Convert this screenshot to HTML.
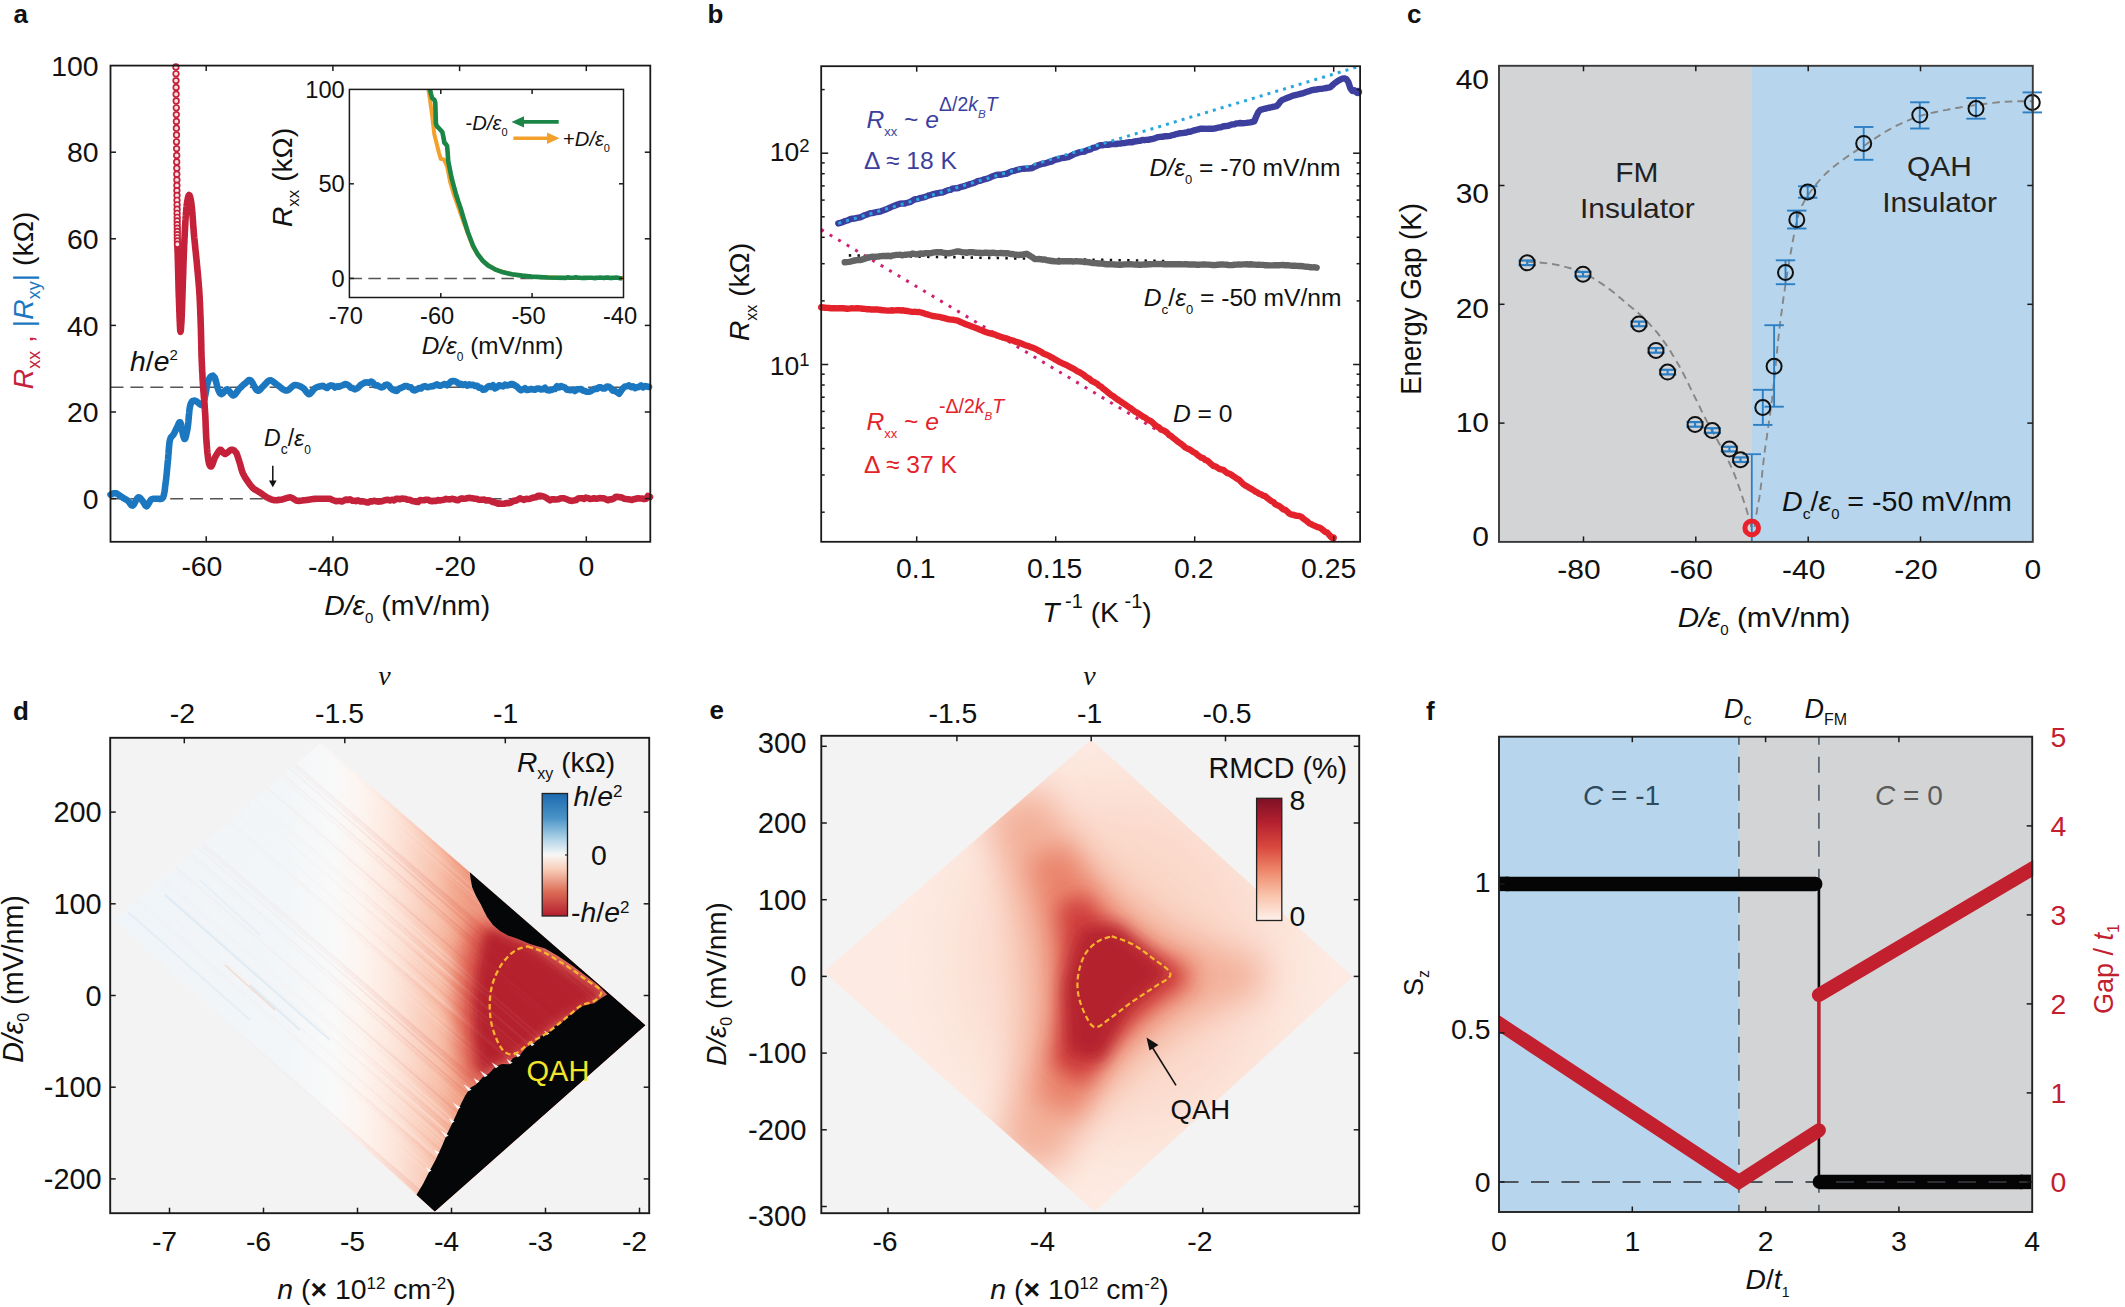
<!DOCTYPE html>
<html><head><meta charset="utf-8"><title>Figure</title>
<style>
html,body{margin:0;padding:0;background:#fff;}
body{width:2125px;height:1307px;overflow:hidden;}
svg{display:block;font-family:"Liberation Sans",sans-serif;}
</style></head><body>
<svg width="2125" height="1307" viewBox="0 0 2125 1307">
<defs>
<clipPath id="dclip"><polygon points="114,919.4 321,742.7 645.6,1025.2 434.8,1211.8"/></clipPath>
<linearGradient id="dgrad" gradientUnits="userSpaceOnUse" x1="110" y1="0" x2="650" y2="0"><stop offset="0.000" stop-color="#eff4f8"/><stop offset="0.333" stop-color="#f3f6f8"/><stop offset="0.417" stop-color="#f9f9f9"/><stop offset="0.467" stop-color="#fdf4ef"/><stop offset="0.509" stop-color="#fdeae1"/><stop offset="0.541" stop-color="#fcdfd3"/><stop offset="0.574" stop-color="#fad0bf"/><stop offset="0.607" stop-color="#f8c0aa"/><stop offset="0.641" stop-color="#f3a68c"/><stop offset="0.667" stop-color="#ef987f"/><stop offset="1.000" stop-color="#ec8f78"/></linearGradient>
<filter id="db1" x="-30%" y="-30%" width="160%" height="160%"><feGaussianBlur stdDeviation="9"/></filter>
<filter id="db2" x="-30%" y="-30%" width="160%" height="160%"><feGaussianBlur stdDeviation="6"/></filter>
<pattern id="dstreak" patternUnits="userSpaceOnUse" width="120" height="10" patternTransform="rotate(-49)"><rect x="0" y="0" width="1.4" height="10" fill="#ffffff" fill-opacity="0.16"/><rect x="2.1" y="0" width="1.8" height="10" fill="#ffffff" fill-opacity="0.05"/><rect x="5.6" y="0" width="0.9" height="10" fill="#ffffff" fill-opacity="0.05"/><rect x="7.2" y="0" width="1.6" height="10" fill="#c4392f" fill-opacity="0.03"/><rect x="9.8" y="0" width="1.9" height="10" fill="#c4392f" fill-opacity="0.08"/><rect x="13.2" y="0" width="2.6" height="10" fill="#ffffff" fill-opacity="0.19"/><rect x="17" y="0" width="1.1" height="10" fill="#ffffff" fill-opacity="0.10"/><rect x="20.6" y="0" width="1.1" height="10" fill="#c4392f" fill-opacity="0.08"/><rect x="23.2" y="0" width="1.8" height="10" fill="#ffffff" fill-opacity="0.05"/><rect x="26" y="0" width="2" height="10" fill="#ffffff" fill-opacity="0.10"/><rect x="30" y="0" width="1.6" height="10" fill="#ffffff" fill-opacity="0.18"/><rect x="33.8" y="0" width="1.2" height="10" fill="#c4392f" fill-opacity="0.07"/><rect x="37.8" y="0" width="2.1" height="10" fill="#ffffff" fill-opacity="0.22"/><rect x="40.7" y="0" width="1.6" height="10" fill="#c4392f" fill-opacity="0.04"/><rect x="43.9" y="0" width="0.9" height="10" fill="#c4392f" fill-opacity="0.10"/><rect x="46.7" y="0" width="2.4" height="10" fill="#ffffff" fill-opacity="0.17"/><rect x="51.1" y="0" width="1.8" height="10" fill="#ffffff" fill-opacity="0.19"/><rect x="55.8" y="0" width="1.7" height="10" fill="#c4392f" fill-opacity="0.03"/><rect x="59.7" y="0" width="2" height="10" fill="#c4392f" fill-opacity="0.10"/><rect x="62.9" y="0" width="1.5" height="10" fill="#c4392f" fill-opacity="0.02"/><rect x="66" y="0" width="1.1" height="10" fill="#ffffff" fill-opacity="0.05"/><rect x="69.6" y="0" width="1" height="10" fill="#ffffff" fill-opacity="0.11"/><rect x="73.3" y="0" width="0.9" height="10" fill="#ffffff" fill-opacity="0.14"/><rect x="76.9" y="0" width="2.3" height="10" fill="#c4392f" fill-opacity="0.05"/><rect x="80.7" y="0" width="1.4" height="10" fill="#c4392f" fill-opacity="0.12"/><rect x="83.1" y="0" width="1.1" height="10" fill="#ffffff" fill-opacity="0.08"/><rect x="85.9" y="0" width="1.9" height="10" fill="#ffffff" fill-opacity="0.04"/><rect x="89.3" y="0" width="1.5" height="10" fill="#c4392f" fill-opacity="0.12"/><rect x="93" y="0" width="1.7" height="10" fill="#c4392f" fill-opacity="0.09"/><rect x="95.4" y="0" width="2.4" height="10" fill="#c4392f" fill-opacity="0.11"/><rect x="100.3" y="0" width="1.5" height="10" fill="#ffffff" fill-opacity="0.06"/><rect x="103.9" y="0" width="0.9" height="10" fill="#ffffff" fill-opacity="0.08"/><rect x="105.7" y="0" width="1.4" height="10" fill="#ffffff" fill-opacity="0.04"/><rect x="108" y="0" width="1" height="10" fill="#ffffff" fill-opacity="0.04"/><rect x="111.6" y="0" width="1.9" height="10" fill="#ffffff" fill-opacity="0.09"/><rect x="114.9" y="0" width="1.5" height="10" fill="#ffffff" fill-opacity="0.19"/><rect x="119.3" y="0" width="1.6" height="10" fill="#ffffff" fill-opacity="0.06"/></pattern>
<linearGradient id="dstreakfade" gradientUnits="userSpaceOnUse" x1="110" y1="0" x2="650" y2="0">
<stop offset="0" stop-color="#fff" stop-opacity="0.15"/><stop offset="0.4" stop-color="#fff" stop-opacity="0.3"/><stop offset="0.6" stop-color="#fff" stop-opacity="1"/><stop offset="1" stop-color="#fff" stop-opacity="1"/></linearGradient>
<mask id="dmask" maskUnits="userSpaceOnUse" x="100" y="730" width="560" height="490"><rect x="100" y="730" width="560" height="490" fill="url(#dstreakfade)"/></mask>
<linearGradient id="dcb" x1="0" y1="0" x2="0" y2="1"><stop offset="0" stop-color="#1c69b0"/><stop offset="0.2" stop-color="#4a93c7"/>
<stop offset="0.38" stop-color="#b4d6e9"/><stop offset="0.5" stop-color="#f8f7f6"/><stop offset="0.62" stop-color="#f8cdb8"/><stop offset="0.8" stop-color="#dc6e58"/>
<stop offset="1" stop-color="#b41d2d"/></linearGradient>
<clipPath id="eclip"><polygon points="823.7,971.8 1091.2,739.5 1352.7,976.8 1094.7,1211.7"/></clipPath>
<filter id="eb0" x="-50%" y="-50%" width="200%" height="200%"><feGaussianBlur stdDeviation="45"/></filter>
<filter id="eb1" x="-30%" y="-30%" width="160%" height="160%"><feGaussianBlur stdDeviation="17"/></filter>
<filter id="eb2" x="-30%" y="-30%" width="160%" height="160%"><feGaussianBlur stdDeviation="13"/></filter>
<filter id="eb3" x="-30%" y="-30%" width="160%" height="160%"><feGaussianBlur stdDeviation="10"/></filter>
<filter id="eb4" x="-30%" y="-30%" width="160%" height="160%"><feGaussianBlur stdDeviation="8"/></filter>
<linearGradient id="ecb" x1="0" y1="0" x2="0" y2="1"><stop offset="0" stop-color="#7d1025"/><stop offset="0.2" stop-color="#b5212f"/>
<stop offset="0.4" stop-color="#d9493f"/><stop offset="0.6" stop-color="#ef8a6c"/><stop offset="0.8" stop-color="#fac4ad"/>
<stop offset="1" stop-color="#fef1ea"/></linearGradient>
<clipPath id="fclip"><rect x="1499" y="736.7" width="534.2" height="475.3"/></clipPath>
</defs>
<rect width="2125" height="1307" fill="#ffffff"/>
<g id="panel-a">
<text x="13.5" y="23" font-size="26" text-anchor="start" fill="#111" font-weight="bold">a</text>
<line x1="110.5" y1="387.2" x2="650.3" y2="387.2" stroke="#555" stroke-width="1.5" stroke-dasharray="13 6.9"/>
<line x1="110.5" y1="498.8" x2="650.3" y2="498.8" stroke="#555" stroke-width="1.5" stroke-dasharray="13 6.9"/>
<path d="M110.5 494.6 L111.7 494 L113.5 493.3 L115.5 493.2 L116.8 493.7 L118.2 494.5 L119.6 495.5 L121.1 496.5 L122.4 497.4 L123.9 498.3 L125.3 499.1 L126.6 499.9 L127.9 500.8 L129.1 502.2 L130.3 503.9 L131.5 505.3 L132.7 505.6 L133.6 504.8 L134.5 503.4 L135.4 501.5 L136.4 499.7 L137.3 498.2 L138.2 497.4 L139.5 497.5 L140.7 498.6 L141.9 500.1 L143 501.5 L144.2 503.5 L145.3 505.5 L146.5 506.3 L147.4 505.6 L148.3 504.1 L149.3 502.3 L150.3 500.6 L151.3 499.4 L153.1 498.8 L154.9 498.8 L156.8 498.8 L158.4 498.8 L160.1 499.1 L161.7 498.8 L163 497.4 L163.4 496.4 L163.8 495.2 L164.1 493.8 L164.4 492.3 L164.7 490.6 L164.9 488.9 L165.1 487.1 L165.3 485.2 L165.6 483.3 L165.8 481.5 L166 480.1 L166.2 478.6 L166.3 477.1 L166.5 475.5 L166.7 473.9 L166.8 472.3 L167 470.7 L167.1 469 L167.3 467.4 L167.4 465.8 L167.6 464.1 L167.7 462.5 L167.9 460.9 L168.1 459.3 L168.2 457.6 L168.3 455.8 L168.5 454 L168.6 452.3 L168.7 450.5 L168.9 448.7 L169 447.1 L169.2 445.5 L169.3 443.9 L169.5 442.5 L169.7 441.3 L169.9 440.2 L170.7 437.8 L171.5 436.7 L172.4 435.9 L173.4 434.7 L174.1 433.4 L174.8 432 L175.5 430.5 L176.2 429 L176.9 427.6 L177.5 426.4 L178.5 424.1 L179.4 422.3 L180.3 422.3 L180.6 423.1 L181 424.4 L181.3 426.1 L181.7 428 L182 429.9 L182.4 431.8 L182.7 433.4 L183 434.7 L183.7 437.3 L184.4 439 L185.1 438.8 L185.4 438.1 L185.7 437 L186.1 435.7 L186.4 434.1 L186.8 432.3 L187.2 430.4 L187.5 428.4 L187.8 426.4 L188 425 L188.2 423.4 L188.4 421.8 L188.5 420 L188.7 418.2 L188.8 416.4 L189 414.6 L189.2 412.8 L189.3 411.2 L189.5 409.6 L189.7 408.3 L189.9 407.1 L190.5 404.5 L191.2 402.8 L191.9 401.7 L192.7 400.9 L194.6 400.6 L196.8 401.6 L198.1 402.6 L199.6 404 L201.1 405 L202.3 405.1 L202.9 404.4 L203.4 403.2 L203.9 401.7 L204.3 399.9 L204.7 398 L205.1 396.1 L205.4 394.7 L205.7 393.2 L206 391.6 L206.3 389.9 L206.6 388.2 L206.8 386.5 L207.1 384.9 L207.5 383.5 L207.8 382.3 L208.6 380.1 L209.5 378.3 L210.4 377 L211.3 376.2 L213 375.7 L214.7 377.5 L215.1 378.5 L215.5 379.9 L216 381.4 L216.4 383.1 L216.8 384.9 L217.2 386.5 L217.7 388 L218.1 389.2 L218.9 391.1 L219.7 392.7 L220.6 393.7 L221.6 394.1 L222.8 393.3 L224.2 391.6 L225.6 389.9 L227.1 389.2 L228.3 389.9 L229.5 391.5 L230.8 393.3 L232 394.8 L233.3 395.4 L234.3 395 L235.4 394 L236.4 392.7 L237.4 391.2 L238.5 389.7 L239.5 388.5 L240.8 387.3 L242 386.1 L243.3 384.9 L244.5 383.9 L245.7 383 L247.3 381.4 L248.8 380.1 L250.5 380.3 L251.3 381.1 L252.1 382.3 L253 383.8 L253.9 385.5 L254.8 387.2 L255.7 388.7 L256.6 389.9 L257.4 390.6 L258.8 390.6 L260.1 389.6 L261.5 388 L262.9 386.5 L264 385.5 L265.1 384.2 L266.3 382.9 L267.4 381.7 L268.6 380.8 L269.8 380.3 L271.1 380.4 L272.4 381.1 L273.7 382.1 L275.1 383.3 L276.7 384.4 L277.9 385.3 L279.3 386.4 L280.7 387.5 L282.1 388.7 L283.6 389.6 L285 390.3 L286.3 390.6 L287.8 390.3 L289.2 389.3 L290.5 388.1 L291.9 386.8 L293.2 385.7 L294.6 385.1 L296.3 385.1 L298 385.5 L299.7 386.1 L301.4 387 L302.9 387.9 L304.3 389.1 L305.5 390.7 L306.7 392.3 L307.9 393.6 L309.1 394.1 L310.3 393.6 L311.5 392.3 L312.7 390.7 L314 389.1 L315.3 387.9 L316.9 387.2 L318.6 386.7 L320.4 386.3 L321.9 386 L323 385.8 L325 387 L327 388 L329 386.1 L331 385.4 L333 385.7 L335 387.5 L337 386.3 L339 386.8 L341 385.8 L343 385.2 L345 384 L347 384.5 L349 385.8 L351 387.8 L353 388.3 L355 389.4 L357 388.4 L359 386.7 L361 384.6 L363 383.6 L365 382.5 L367 382.4 L369 382.9 L371 381.5 L373 382.6 L375 385.4 L377 385.2 L379 386.4 L381 387.4 L383 387 L385 385.2 L387 384.5 L389 385.8 L391 388.4 L393 389.9 L395 390.5 L397 390.9 L399 388.6 L401 388 L403 387.1 L405 386 L407 386 L409 387.3 L411 387.4 L413 390 L415 390.4 L417 389.4 L419 388.1 L421 388.5 L423 386.6 L425 386.1 L427 387.2 L429 386.9 L431 386.4 L433 386.2 L435 385.2 L437 384.4 L439 385.6 L441 385.6 L443 384.6 L445 384 L447 385.4 L449 383.6 L451 381.5 L453 381.1 L455 381.3 L457 382.2 L459 383.9 L461 383.7 L463 385 L465 384.2 L467 385.7 L469 384.4 L471 385.1 L473 384.7 L475 386 L477 385.7 L479 387.7 L481 387.9 L483 389.7 L485 389.5 L487 387.4 L489 386 L491 387 L493 385.2 L495 388.4 L497 387.3 L499 385.3 L501 385.8 L503 386.4 L505 384.7 L507 385.4 L509 385 L511 384.1 L513 384.1 L515 385.5 L517 386.6 L519 388.9 L521 390.3 L523 389.5 L525 388.2 L527 390 L529 389.8 L531 388.9 L533 389.5 L535 389.8 L537 388.5 L539 388.5 L541 389.5 L543 389.2 L545 387.8 L547 390.1 L549 390.4 L551 390.1 L553 389.3 L555 389 L557 386.2 L559 387.5 L561 386 L563 386.9 L565 387.6 L567 389.8 L569 389.9 L571 390.2 L573 389.6 L575 391 L577 389.4 L579 389.3 L581 389 L583 390.5 L585 391.1 L587 391.8 L589 391.8 L591 391.2 L593 389.7 L595 388.7 L597 389 L599 387.3 L601 387.4 L603 388.5 L605 388.4 L607 386.5 L609 386.8 L611 388.4 L613 390.8 L615 390.9 L617 392.2 L619 393.7 L621 391 L623 388.2 L625 386.5 L627 386.2 L629 385.4 L631 387.1 L633 386.3 L635 388.2 L637 387.3 L639 386.9 L641 385.4 L643 387.3 L645 386.1 L647 386.5 L649 387" fill="none" stroke="#1b78c0" stroke-width="6.6" stroke-linejoin="round" stroke-linecap="round"/>
<path d="M177.3 243 L177.3 243.9 L177.4 244.9 L177.4 246.1 L177.4 247.4 L177.5 248.9 L177.5 250.5 L177.6 252.1 L177.7 253.9 L177.7 255.7 L177.8 257.5 L177.8 259.4 L177.9 261.2 L177.9 263.1 L178 265 L178 266.3 L178.1 267.6 L178.1 269 L178.1 270.4 L178.2 271.8 L178.2 273.2 L178.2 274.7 L178.3 276.1 L178.3 277.6 L178.3 279.1 L178.4 280.6 L178.4 282.2 L178.5 283.7 L178.5 285.3 L178.5 286.9 L178.6 288.5 L178.6 290.1 L178.7 291.7 L178.7 293.4 L178.8 295 L178.8 296.4 L178.9 297.9 L179 299.5 L179 301.2 L179.1 303 L179.1 304.7 L179.2 306.5 L179.3 308.4 L179.3 310.2 L179.4 312.1 L179.5 313.9 L179.5 315.7 L179.6 317.5 L179.7 319.2 L179.7 320.8 L179.8 322.4 L179.9 323.9 L179.9 325.3 L180 326.6 L180.1 327.8 L180.1 328.8 L180.2 329.7 L180.2 330.4 L180.3 331 L180.5 331.8 L180.6 331.5 L180.8 330.4 L181 328.5 L181.1 326.1 L181.3 323.5 L181.5 320.7 L181.6 318 L181.7 316.8 L181.7 315.6 L181.8 314.3 L181.8 313 L181.9 311.6 L181.9 310.2 L182 308.8 L182 307.2 L182.1 305.7 L182.1 304.1 L182.2 302.5 L182.2 300.8 L182.3 299.1 L182.4 297.3 L182.4 295.5 L182.5 293.7 L182.5 291.9 L182.6 290 L182.6 288.7 L182.7 287.3 L182.7 285.9 L182.8 284.4 L182.8 282.9 L182.9 281.4 L182.9 279.8 L183 278.2 L183.1 276.7 L183.1 275 L183.2 273.4 L183.2 271.8 L183.3 270.1 L183.3 268.5 L183.4 266.8 L183.4 265.2 L183.5 263.6 L183.5 262 L183.6 260.4 L183.7 258.8 L183.7 257.2 L183.8 255.7 L183.8 254.2 L183.9 252.8 L183.9 251.4 L184 250 L184.1 248.3 L184.1 246.5 L184.2 244.8 L184.3 243.2 L184.4 241.5 L184.4 239.9 L184.5 238.2 L184.6 236.7 L184.7 235.1 L184.7 233.6 L184.8 232.1 L184.9 230.6 L185 229.1 L185 227.7 L185.1 226.4 L185.2 225 L185.3 223.7 L185.3 222.4 L185.4 221.2 L185.5 220 L185.6 217.9 L185.8 216 L185.9 214.2 L186 212.5 L186.2 210.9 L186.3 209.4 L186.4 208 L186.6 206.6 L186.7 205.4 L186.8 204.2 L187 203 L187.4 200.6 L187.8 198.5 L188.2 196.8 L188.6 195.6 L189 195 L189.5 195.3 L190 196.6 L190.5 198.6 L191 201 L191.2 202.2 L191.4 203.5 L191.5 204.9 L191.7 206.3 L191.9 207.9 L192 209.6 L192.2 211.3 L192.3 213.1 L192.5 215 L192.6 216.3 L192.7 217.6 L192.8 219 L192.9 220.4 L193 221.8 L193.1 223.3 L193.2 224.8 L193.3 226.3 L193.4 227.9 L193.6 229.6 L193.7 231.3 L193.8 233.1 L194 235 L194.1 236.3 L194.2 237.6 L194.4 239 L194.5 240.4 L194.7 241.8 L194.8 243.3 L195 244.8 L195.1 246.3 L195.3 247.8 L195.4 249.4 L195.6 250.9 L195.8 252.5 L195.9 254.1 L196.1 255.7 L196.2 257.3 L196.4 258.8 L196.6 260.4 L196.7 262 L196.9 263.5 L197 265 L197.1 266.5 L197.3 268 L197.4 269.5 L197.5 270.9 L197.7 272.4 L197.8 273.8 L198 275.3 L198.1 276.8 L198.2 278.2 L198.3 279.7 L198.5 281.2 L198.6 282.6 L198.7 284.1 L198.8 285.6 L199 287.1 L199.1 288.7 L199.2 290.2 L199.3 291.8 L199.4 293.4 L199.5 295 L199.6 296.4 L199.7 297.9 L199.7 299.4 L199.8 300.9 L199.9 302.4 L200 304 L200 305.5 L200.1 307.1 L200.2 308.7 L200.2 310.3 L200.3 311.9 L200.3 313.4 L200.4 315 L200.5 316.6 L200.5 318.2 L200.6 319.7 L200.6 321.3 L200.7 322.8 L200.7 324.3 L200.8 325.8 L200.8 327.2 L200.9 328.6 L200.9 330 L201 331.7 L201 333.4 L201 335 L201.1 336.6 L201.1 338.2 L201.2 339.8 L201.2 341.3 L201.2 342.8 L201.3 344.3 L201.3 345.7 L201.3 347.2 L201.3 348.7 L201.4 350.1 L201.4 351.6 L201.5 353.1 L201.5 354.6 L201.5 356.1 L201.6 357.6 L201.7 359.1 L201.7 360.7 L201.8 362.2 L201.9 363.7 L201.9 365.2 L202 366.8 L202.1 368.3 L202.1 369.8 L202.2 371.4 L202.3 372.9 L202.4 374.4 L202.5 375.9 L202.5 377.5 L202.6 379 L202.7 380.5 L202.8 382 L202.9 383.6 L203 385.1 L203.1 386.6 L203.2 388.2 L203.3 389.7 L203.4 391.2 L203.6 392.8 L203.7 394.3 L203.8 395.8 L203.9 397.4 L204.1 398.9 L204.2 400.4 L204.3 402 L204.4 403.5 L204.6 405 L204.7 406.6 L204.8 408.1 L204.9 409.6 L205 411.2 L205.1 412.7 L205.2 414.2 L205.3 415.8 L205.4 417.4 L205.4 418.9 L205.5 420.5 L205.6 422.1 L205.6 423.7 L205.7 425.3 L205.7 426.9 L205.8 428.4 L205.9 430 L205.9 431.5 L206 433.1 L206.1 434.5 L206.1 436 L206.2 437.4 L206.3 438.8 L206.4 440.2 L206.5 442.1 L206.7 443.9 L206.8 445.8 L207 447.6 L207.1 449.3 L207.3 451.1 L207.4 452.8 L207.6 454.4 L207.8 455.9 L208 457.3 L208.1 458.6 L208.3 459.8 L208.5 460.9 L209.1 463.7 L209.8 465.5 L210.5 466.4 L211.3 466.4 L211.9 465.6 L212.6 464 L213.3 462 L214 459.9 L214.7 458.1 L215.5 456.5 L216.4 455 L217.3 453.5 L218.1 452.2 L218.8 451.2 L219.9 449.9 L220.9 449.9 L222.1 451.1 L223.5 453 L225 454 L226.2 453.6 L227.5 452.5 L228.8 451.3 L229.9 450.5 L231.3 449.8 L232.6 449.9 L234.3 450.6 L236.1 452.6 L236.7 453.8 L237.2 455.2 L237.8 456.9 L238.4 458.6 L238.9 460.4 L239.5 462.2 L240 463.7 L240.4 465.3 L240.9 467 L241.3 468.7 L241.8 470.3 L242.3 471.9 L242.9 473.3 L243.6 474.8 L244.4 476.3 L245.2 477.7 L246.1 479 L246.9 480.2 L247.8 481.5 L248.8 483 L249.9 484.5 L251 485.9 L252.1 487.2 L253.3 488.4 L254.6 489.4 L256 490.2 L257.4 491 L258.8 491.8 L260.2 492.6 L261.6 493.6 L262.9 494.6 L264.3 495.6 L265.6 496.6 L267 497.4 L268.7 498.3 L270.4 499.1 L272.1 499.7 L273.9 500.1 L275.5 500.2 L277.1 500.1 L278.8 499.9 L280.5 499.7 L282.2 499.4 L283.9 499 L285.6 498.4 L287.3 497.9 L288.9 497.5 L290.5 497.4 L291.9 497.8 L293.3 498.6 L294.6 499.5 L296 500.3 L297.4 500.8 L298.9 500.9 L300.5 500.8 L302.1 500.6 L303.8 500.3 L305.6 500.1 L307 499.9 L308.5 499.7 L310 499.5 L311.6 499.3 L313.2 499.1 L314.9 498.9 L316.6 498.8 L318.3 498.7 L320.1 498.7 L322 498.7 L324 498.7 L325.9 498.7 L327.5 498.8 L328.9 498.8 L330 498.8 L332 499.7 L334 500.5 L336 501.2 L338 501 L340 501 L342 501.4 L344 500.5 L346 499.5 L348 500 L350 499.2 L352 500.6 L354 500.7 L356 501.1 L358 500.4 L360 501.4 L362 501.2 L364 501.5 L366 502.2 L368 502.5 L370 501.5 L372 501.5 L374 500.8 L376 501.2 L378 501.6 L380 501.5 L382 501.2 L384 500.5 L386 500.1 L388 499.7 L390 500.5 L392 499.7 L394 500.4 L396 498.9 L398 498.7 L400 499.3 L402 498.5 L404 498.7 L406 499.1 L408 499.8 L410 499.8 L412 500.9 L414 501.2 L416 501.8 L418 502 L420 500.1 L422 500.2 L424 500.2 L426 499.7 L428 499.7 L430 500.7 L432 501.2 L434 500.7 L436 500.9 L438 500 L440 500.4 L442 500.1 L444 499.7 L446 498.9 L448 499.2 L450 499.4 L452 498.8 L454 499.2 L456 499.9 L458 500.3 L460 499 L462 498.4 L464 498.7 L466 498.5 L468 498 L470 497.9 L472 498.2 L474 498.6 L476 498.7 L478 499.4 L480 499.8 L482 499.8 L484 499.5 L486 500.4 L488 500.3 L490 500.5 L492 501.7 L494 502.2 L496 502.9 L498 503.6 L500 503.4 L502 503.8 L504 503.8 L506 503.1 L508 503.1 L510 503 L512 501.8 L514 500.6 L516 500.7 L518 499.5 L520 498.3 L522 499.2 L524 499.9 L526 498.8 L528 499.1 L530 498.8 L532 498 L534 497.5 L536 497.2 L538 495.8 L540 495.9 L542 496.1 L544 496.6 L546 497.6 L548 499 L550 500.3 L552 499.3 L554 499.4 L556 499.5 L558 499.3 L560 498.6 L562 498.2 L564 498.2 L566 499 L568 499.8 L570 500.6 L572 500.9 L574 500.4 L576 500.1 L578 498.5 L580 498.3 L582 498.2 L584 498.9 L586 497.6 L588 498.1 L590 499 L592 498.7 L594 498.2 L596 498.8 L598 498.4 L600 498.1 L602 498.2 L604 498.4 L606 499.4 L608 500.2 L610 499.2 L612 499.4 L614 498.3 L616 496.7 L618 496.9 L620 497.2 L622 497.6 L624 498.7 L626 499 L628 499.2 L630 499.5 L632 499.9 L634 499.2 L636 498.7 L638 498.2 L640 498.5 L642 498.5 L644 499.1 L646 498.7 L648 496 L650 497" fill="none" stroke="#c4213a" stroke-width="6.6" stroke-linejoin="round" stroke-linecap="round"/>
<g fill="#f7dfe2" stroke="#c4213a" stroke-width="1.7"><circle cx="175.9" cy="67" r="2.8"/><circle cx="176" cy="73.8" r="2.8"/><circle cx="176" cy="80.6" r="2.8"/><circle cx="176.1" cy="87.4" r="2.8"/><circle cx="176.1" cy="94.2" r="2.8"/><circle cx="176.2" cy="101" r="2.8"/><circle cx="176.3" cy="107.8" r="2.8"/><circle cx="176.3" cy="114.6" r="2.8"/><circle cx="176.4" cy="121.4" r="2.8"/><circle cx="176.4" cy="128.2" r="2.8"/><circle cx="176.5" cy="135" r="2.8"/><circle cx="176.5" cy="141.8" r="2.8"/><circle cx="176.6" cy="148.6" r="2.8"/><circle cx="176.7" cy="155.4" r="2.8"/><circle cx="176.7" cy="162" r="2.8"/><circle cx="176.8" cy="168.2" r="2.8"/><circle cx="176.8" cy="174.2" r="2.8"/><circle cx="176.9" cy="179.9" r="2.8"/><circle cx="176.9" cy="185.4" r="2.8"/><circle cx="176.9" cy="190.6" r="2.8"/><circle cx="177" cy="195.5" r="2.8"/><circle cx="177" cy="200.3" r="2.8"/><circle cx="177.1" cy="204.8" r="2.8"/><circle cx="177.1" cy="209.2" r="2.8"/><circle cx="177.1" cy="213.3" r="2.8"/><circle cx="177.2" cy="217.3" r="2.8"/><circle cx="177.2" cy="221" r="2.8"/><circle cx="177.2" cy="224.6" r="2.8"/><circle cx="177.3" cy="228.1" r="2.8"/><circle cx="177.3" cy="231.4" r="2.8"/><circle cx="177.3" cy="234.6" r="2.8"/><circle cx="177.3" cy="237.8" r="2.8"/><circle cx="177.4" cy="241" r="2.8"/><circle cx="177.4" cy="244.2" r="2.8"/></g>
<rect x="110.5" y="65.6" width="539.8" height="476.2" fill="none" stroke="#1a1a1a" stroke-width="1.8"/>
<line x1="206.2" y1="541.8" x2="206.2" y2="536.3" stroke="#1a1a1a" stroke-width="1.5" />
<line x1="332.9" y1="541.8" x2="332.9" y2="536.3" stroke="#1a1a1a" stroke-width="1.5" />
<line x1="459.6" y1="541.8" x2="459.6" y2="536.3" stroke="#1a1a1a" stroke-width="1.5" />
<line x1="586.3" y1="541.8" x2="586.3" y2="536.3" stroke="#1a1a1a" stroke-width="1.5" />
<line x1="206.2" y1="65.6" x2="206.2" y2="71.1" stroke="#1a1a1a" stroke-width="1.5" />
<line x1="332.9" y1="65.6" x2="332.9" y2="71.1" stroke="#1a1a1a" stroke-width="1.5" />
<line x1="459.6" y1="65.6" x2="459.6" y2="71.1" stroke="#1a1a1a" stroke-width="1.5" />
<line x1="586.3" y1="65.6" x2="586.3" y2="71.1" stroke="#1a1a1a" stroke-width="1.5" />
<line x1="110.5" y1="498.6" x2="116" y2="498.6" stroke="#1a1a1a" stroke-width="1.5" />
<line x1="110.5" y1="412" x2="116" y2="412" stroke="#1a1a1a" stroke-width="1.5" />
<line x1="110.5" y1="325.4" x2="116" y2="325.4" stroke="#1a1a1a" stroke-width="1.5" />
<line x1="110.5" y1="238.8" x2="116" y2="238.8" stroke="#1a1a1a" stroke-width="1.5" />
<line x1="110.5" y1="152.2" x2="116" y2="152.2" stroke="#1a1a1a" stroke-width="1.5" />
<line x1="650.3" y1="498.6" x2="644.8" y2="498.6" stroke="#1a1a1a" stroke-width="1.5" />
<line x1="650.3" y1="412" x2="644.8" y2="412" stroke="#1a1a1a" stroke-width="1.5" />
<line x1="650.3" y1="325.4" x2="644.8" y2="325.4" stroke="#1a1a1a" stroke-width="1.5" />
<line x1="650.3" y1="238.8" x2="644.8" y2="238.8" stroke="#1a1a1a" stroke-width="1.5" />
<line x1="650.3" y1="152.2" x2="644.8" y2="152.2" stroke="#1a1a1a" stroke-width="1.5" />
<text x="201.9" y="575.9" font-size="28.4" text-anchor="middle" fill="#111" >-60</text>
<text x="328.6" y="575.9" font-size="28.4" text-anchor="middle" fill="#111" >-40</text>
<text x="455.3" y="575.9" font-size="28.4" text-anchor="middle" fill="#111" >-20</text>
<text x="586.3" y="575.9" font-size="28.4" text-anchor="middle" fill="#111" >0</text>
<text x="98.5" y="508.8" font-size="28.4" text-anchor="end" fill="#111" >0</text>
<text x="98.5" y="422.2" font-size="28.4" text-anchor="end" fill="#111" >20</text>
<text x="98.5" y="335.6" font-size="28.4" text-anchor="end" fill="#111" >40</text>
<text x="98.5" y="249" font-size="28.4" text-anchor="end" fill="#111" >60</text>
<text x="98.5" y="162.4" font-size="28.4" text-anchor="end" fill="#111" >80</text>
<text x="98.5" y="75.8" font-size="28.4" text-anchor="end" fill="#111" >100</text>
<text x="407.2" y="614.7" font-size="28.4" text-anchor="middle" fill="#111" ><tspan font-style="italic">D/&#949;</tspan><tspan dy="8" font-size="15">0</tspan><tspan dy="-8">&#8203;</tspan> (mV/nm)</text>
<text transform="translate(32.6 300.5) rotate(-90)" font-size="28.4" text-anchor="middle"><tspan fill="#c4213a" font-style="italic">R</tspan><tspan fill="#c4213a" dy="7" font-size="18">xx</tspan><tspan dy="-7" fill="#c4213a"> ,  </tspan><tspan fill="#1b78c0">|<tspan font-style="italic">R</tspan></tspan><tspan fill="#1b78c0" dy="7" font-size="18">xy</tspan><tspan dy="-7" fill="#1b78c0">|</tspan><tspan fill="#111"> (k&#937;)</tspan></text>
<text x="130" y="370.6" font-size="28.4" text-anchor="start" fill="#111" ><tspan font-style="italic">h</tspan>/<tspan font-style="italic">e</tspan><tspan dy="-11" font-size="15">2</tspan><tspan dy="11">&#8203;</tspan></text>
<text x="264" y="446.4" font-size="23" text-anchor="start" fill="#111" ><tspan font-style="italic">D</tspan><tspan dy="8" font-size="14">c</tspan><tspan dy="-8">&#8203;</tspan>/<tspan font-style="italic">&#949;</tspan><tspan dy="8" font-size="12">0</tspan><tspan dy="-8">&#8203;</tspan></text>
<line x1="272.8" y1="465.7" x2="272.8" y2="482" stroke="#111" stroke-width="1.5" />
<polygon points="269,480.6 276.6,480.6 272.8,487.2" fill="#111"/>
<rect x="349.4" y="89.4" width="274.1" height="208.1" fill="#fff"/>
<line x1="349.4" y1="278.4" x2="623.5" y2="278.4" stroke="#555" stroke-width="1.5" stroke-dasharray="12.5 6.5"/>
<path d="M428.4 89.4 L430 100 L432.1 115 L433.2 125 L434.3 134.3 L436 141 L437.5 147.1 L439 153 L440.7 158.9 L443.9 159.5 L445.5 163 L447.1 166.4 L450.3 182.5 L453.4 193 L463.2 221 L473 247 L482.8 261.2 L495 269.5 L512 274.4 L531.7 276.8 L566 278 L623.5 278" fill="none" stroke="#f4a02c" stroke-width="4" stroke-linejoin="round"/>
<path d="M430 89.4 L431 94 L432.1 97.9 L434.5 100 L435.3 103 L435.6 113 L435.9 123.6 L437 126.5 L438.5 127.8 L440.5 130 L442.3 132.1 L443.4 137 L444.4 142.8 L446 144.3 L447.1 146 L447.7 153 L448.2 161 L449.8 169 L451.4 177.1 L453.5 185 L455.7 193.2 L458.3 201.5 L461 209.3 L463.2 217 L468 232.5 L473 245.5 L477.5 254 L482.8 260.7 L488 265.5 L495 269.3 L503 272.3 L512 274.2 L522 275.6 L531.7 276.6 L548 277.5 L566 277.9 L568 277.3 L570 277.7 L572 277.7 L574 277.6 L576 277.3 L578 277.7 L580 277.7 L582 278 L584 277.9 L586 277.9 L588 277.8 L590 277.7 L592 277.8 L594 278.1 L596 277.9 L598 277.7 L600 277.6 L602 277.8 L604 277.9 L606 277.6 L608 277.5 L610 278 L612 277.9 L614 277.8 L616 277.6 L618 277.8 L620 278.2 L622 278.4" fill="none" stroke="#1a8547" stroke-width="4.6" stroke-linejoin="round"/>
<rect x="349.4" y="89.4" width="274.1" height="208.1" fill="none" stroke="#1a1a1a" stroke-width="1.5"/>
<line x1="440.8" y1="297.5" x2="440.8" y2="293" stroke="#1a1a1a" stroke-width="1.5" />
<line x1="532.1" y1="297.5" x2="532.1" y2="293" stroke="#1a1a1a" stroke-width="1.5" />
<line x1="440.8" y1="89.4" x2="440.8" y2="93.9" stroke="#1a1a1a" stroke-width="1.5" />
<line x1="532.1" y1="89.4" x2="532.1" y2="93.9" stroke="#1a1a1a" stroke-width="1.5" />
<line x1="349.4" y1="278.4" x2="353.9" y2="278.4" stroke="#1a1a1a" stroke-width="1.5" />
<line x1="349.4" y1="183.8" x2="353.9" y2="183.8" stroke="#1a1a1a" stroke-width="1.5" />
<line x1="623.5" y1="278.4" x2="619" y2="278.4" stroke="#1a1a1a" stroke-width="1.5" />
<line x1="623.5" y1="183.8" x2="619" y2="183.8" stroke="#1a1a1a" stroke-width="1.5" />
<text x="345.8" y="323.8" font-size="23.7" text-anchor="middle" fill="#111" >-70</text>
<text x="437.2" y="323.8" font-size="23.7" text-anchor="middle" fill="#111" >-60</text>
<text x="528.6" y="323.8" font-size="23.7" text-anchor="middle" fill="#111" >-50</text>
<text x="620" y="323.8" font-size="23.7" text-anchor="middle" fill="#111" >-40</text>
<text x="344.8" y="286.9" font-size="23.7" text-anchor="end" fill="#111" >0</text>
<text x="344.8" y="192.3" font-size="23.7" text-anchor="end" fill="#111" >50</text>
<text x="344.8" y="97.7" font-size="23.7" text-anchor="end" fill="#111" >100</text>
<text x="492.5" y="353.5" font-size="24.3" text-anchor="middle" fill="#111" ><tspan font-style="italic">D/&#949;</tspan><tspan dy="7" font-size="12">0</tspan><tspan dy="-7">&#8203;</tspan> (mV/nm)</text>
<text transform="translate(291.5 177.5) rotate(-90)" font-size="28.2" text-anchor="middle" fill="#111"><tspan font-style="italic">R</tspan><tspan dy="7" font-size="17">xx</tspan><tspan dy="-7"> (k&#937;)</tspan></text>
<line x1="558.7" y1="121.9" x2="522" y2="121.9" stroke="#1a8547" stroke-width="3.6" />
<polygon points="511.5,121.9 524,116.2 524,127.6" fill="#1a8547"/>
<line x1="513.4" y1="138.3" x2="549" y2="138.3" stroke="#f4a02c" stroke-width="3.6" />
<polygon points="559.5,138.3 547,132.6 547,144" fill="#f4a02c"/>
<text x="507.5" y="129.8" font-size="20.2" text-anchor="end" fill="#111" >-<tspan font-style="italic">D/&#949;</tspan><tspan dy="6" font-size="11">0</tspan><tspan dy="-6">&#8203;</tspan></text>
<text x="563" y="146" font-size="20.2" text-anchor="start" fill="#111" >+<tspan font-style="italic">D/&#949;</tspan><tspan dy="6" font-size="11">0</tspan><tspan dy="-6">&#8203;</tspan></text>
</g>
<g id="panel-b">
<text x="707.5" y="23" font-size="26" text-anchor="start" fill="#111" font-weight="bold">b</text>
<line x1="821.2" y1="229.6" x2="1160" y2="431.9" stroke="#cf2273" stroke-width="3" stroke-dasharray="3 6.9"/>
<line x1="848.8" y1="255.4" x2="1165" y2="261" stroke="#111" stroke-width="2.6" stroke-dasharray="2.4 6.3"/>
<path d="M844.7 262.3 L846.7 262.1 L848.7 261.9 L850.7 261.6 L852.7 260.9 L854.7 260.5 L856.7 260.1 L858.7 259.9 L860.7 260 L862.7 259.4 L864.7 258.8 L866.7 258 L868.7 257.7 L870.7 256.9 L872.7 256.8 L874.7 257 L876.7 256.6 L878.7 256.5 L880.7 256.1 L882.7 256 L884.7 256 L886.7 256 L888.7 255.8 L890.7 256.2 L892.7 255.4 L894.7 255.2 L896.7 254.9 L898.7 254.9 L900.7 254.8 L902.7 255.3 L904.7 254.7 L906.7 254.7 L908.7 254.4 L910.7 254.2 L912.7 253.5 L914.7 254 L916.7 254.3 L918.7 253.9 L920.7 253.5 L922.7 253.8 L924.7 253.3 L926.7 253.1 L928.7 253.1 L930.7 253.3 L932.7 252.7 L934.7 252.4 L936.7 252.1 L938.7 252.2 L940.7 252.2 L942.7 252.7 L944.7 253 L946.7 253.3 L948.7 253.2 L950.7 253 L952.7 252.5 L954.7 252.1 L956.7 251.4 L958.7 251.5 L960.7 251.9 L962.7 252.4 L964.7 252.4 L966.7 252.9 L968.7 252.3 L970.7 252.3 L972.7 252.2 L974.7 252.7 L976.7 252.7 L978.7 252.9 L980.7 252.8 L982.7 253.1 L984.7 252.7 L986.7 252.7 L988.7 253 L990.7 253 L992.7 252.6 L994.7 252.9 L996.7 253.4 L998.7 253.1 L1000.7 252.9 L1002.7 253.2 L1004.7 253.1 L1006.7 253.2 L1008.7 253.4 L1010.7 254.1 L1012.7 254 L1014.7 254.6 L1016.7 254.7 L1018.7 255.1 L1020.7 254.7 L1022.7 254.7 L1024.7 254.2 L1026.7 253.8 L1028.7 255 L1030.7 256.2 L1032.7 257.4 L1034.7 259 L1036.7 259.1 L1038.7 259 L1040.7 259.2 L1042.7 259.7 L1044.7 259.4 L1046.7 260.2 L1048.7 260.5 L1050.7 261 L1052.7 261 L1054.7 261.4 L1056.7 261.4 L1058.7 261.7 L1060.7 261.3 L1062.7 261.2 L1064.7 261.2 L1066.7 261.3 L1068.7 261.2 L1070.7 261.2 L1072.7 261.5 L1074.7 261.4 L1076.7 261.3 L1078.7 261.4 L1080.7 261.5 L1082.7 261.6 L1084.7 262 L1086.7 262 L1088.7 262.2 L1090.7 262.7 L1092.7 263 L1094.7 263.1 L1096.7 263.2 L1098.7 263.5 L1100.7 263.5 L1102.7 263.6 L1104.7 264 L1106.7 264.2 L1108.7 264.2 L1110.7 264.3 L1112.7 264.4 L1114.7 264.5 L1116.7 264.6 L1118.7 264.7 L1120.7 264.8 L1122.7 264.6 L1124.7 264.4 L1126.7 264.4 L1128.7 264.3 L1130.7 264.2 L1132.7 264.4 L1134.7 264.6 L1136.7 264.5 L1138.7 264.7 L1140.7 264.8 L1142.7 264.6 L1144.7 264.3 L1146.7 264.5 L1148.7 264.3 L1150.7 264.2 L1152.7 264.1 L1154.7 264.1 L1156.7 263.9 L1158.7 264.1 L1160.7 263.9 L1162.7 264.2 L1164.7 264.2 L1166.7 264.3 L1168.7 264.2 L1170.7 264.3 L1172.7 264.1 L1174.7 264.2 L1176.7 264.3 L1178.7 264.1 L1180.7 264.2 L1182.7 264.4 L1184.7 264.3 L1186.7 264.3 L1188.7 264.5 L1190.7 264.5 L1192.7 264.5 L1194.7 264.5 L1196.7 264.7 L1198.7 264.8 L1200.7 264.6 L1202.7 264.5 L1204.7 264.5 L1206.7 264.6 L1208.7 264.6 L1210.7 264.9 L1212.7 265 L1214.7 265.1 L1216.7 264.8 L1218.7 264.7 L1220.7 264.4 L1222.7 264.5 L1224.7 264.6 L1226.7 264.8 L1228.7 265 L1230.7 265.1 L1232.7 265 L1234.7 264.7 L1236.7 264.6 L1238.7 264.4 L1240.7 264.6 L1242.7 264.4 L1244.7 264.4 L1246.7 264.3 L1248.7 264.5 L1250.7 264.3 L1252.7 264.5 L1254.7 264.6 L1256.7 264.9 L1258.7 264.7 L1260.7 264.9 L1262.7 264.9 L1264.7 265.2 L1266.7 265.1 L1268.7 265.4 L1270.7 265.4 L1272.7 265.4 L1274.7 265.2 L1276.7 265.3 L1278.7 265.3 L1280.7 265.1 L1282.7 264.9 L1284.7 265.3 L1286.7 265.3 L1288.7 265.3 L1290.7 265.6 L1292.7 265.8 L1294.7 265.7 L1296.7 265.9 L1298.7 266 L1300.7 266 L1302.7 266.2 L1304.7 266.6 L1306.7 266.7 L1308.7 266.9 L1310.7 267.3 L1312.7 267.4 L1314.7 267.3 L1316.7 267.7" fill="none" stroke="#646464" stroke-width="6.4" stroke-linejoin="round" stroke-linecap="round"/>
<path d="M821.2 307.3 L823.2 307.5 L825.2 307.7 L827.2 307.9 L829.2 308 L831.2 308.3 L833.2 308.3 L835.2 308.2 L837.2 308.4 L839.2 308.1 L841.2 308.3 L843.2 308.3 L845.2 308.5 L847.2 308.7 L849.2 308.6 L851.2 308.3 L853.2 308.4 L855.2 308.4 L857.2 308.1 L859.2 308.4 L861.2 308.5 L863.2 308.8 L865.2 308.9 L867.2 309.3 L869.2 309.2 L871.2 309.5 L873.2 309.4 L875.2 309.5 L877.2 309.4 L879.2 309.8 L881.2 310 L883.2 310.3 L885.2 310.4 L887.2 310.6 L889.2 310.6 L891.2 310.3 L893.2 310.5 L895.2 310.4 L897.2 310.2 L899.2 310.2 L901.2 310.5 L903.2 310.3 L905.2 310.8 L907.2 311 L909.2 311.4 L911.2 311.7 L913.2 311.9 L915.2 311.8 L917.2 312.1 L919.2 312 L921.2 312.5 L923.2 313.1 L925.2 313.8 L927.2 314.3 L929.2 315 L931.2 315.5 L933.2 316.1 L935.2 316.3 L937.2 316.6 L939.2 316.9 L941.2 317.3 L943.2 317.8 L945.2 318.4 L947.2 319 L949.2 319.3 L951.2 319.6 L953.2 319.8 L955.2 320.2 L957.2 320.5 L959.2 321.3 L961.2 322.3 L963.2 323.1 L965.2 324 L967.2 324.8 L969.2 325.4 L971.2 326.3 L973.2 327 L975.2 327.7 L977.2 328.4 L979.2 329.4 L981.2 330.1 L983.2 331 L985.2 331.9 L987.2 332.5 L989.2 333.2 L991.2 333.5 L993.2 334.2 L995.2 334.7 L997.2 335.7 L999.2 336.2 L1001.2 336.9 L1003.2 337.7 L1005.2 338.1 L1007.2 338.6 L1009.2 339.5 L1011.2 340.2 L1013.2 340.6 L1015.2 341.5 L1017.2 342.2 L1019.2 342.7 L1021.2 343.5 L1023.2 344.3 L1025.2 345.2 L1027.2 345.8 L1029.2 346.4 L1031.2 347.3 L1033.2 347.9 L1035.2 348.7 L1037.2 349.8 L1039.2 351 L1041.2 351.9 L1043.2 353.4 L1045.2 354.3 L1047.2 355 L1049.2 356 L1051.2 357.2 L1053.2 358.2 L1055.2 359.4 L1057.2 360.6 L1059.2 361.8 L1061.2 362.7 L1063.2 363.8 L1065.2 364.5 L1067.2 365.4 L1069.2 366.6 L1071.2 367.6 L1073.2 368.6 L1075.2 369.7 L1077.2 371.2 L1079.2 372 L1081.2 373.2 L1083.2 374.4 L1085.2 376.3 L1087.2 377.6 L1089.2 378.6 L1091.2 380.6 L1093.2 381.7 L1095.2 382.7 L1097.2 383.8 L1099.2 385.8 L1101.2 386.7 L1103.2 388.7 L1105.2 390.1 L1107.2 391.8 L1109.2 393.4 L1111.2 395.2 L1113.2 396.1 L1115.2 397.9 L1117.2 399.2 L1119.2 400.5 L1121.2 401.9 L1123.2 403.3 L1125.2 404.5 L1127.2 406 L1129.2 407.4 L1131.2 408.6 L1133.2 410.3 L1135.2 411.8 L1137.2 412.7 L1139.2 414 L1141.2 415.4 L1143.2 416.8 L1145.2 417.6 L1147.2 419.4 L1149.2 420.4 L1151.2 421.4 L1153.2 423.1 L1155.2 425.2 L1157.2 426.5 L1159.2 427.6 L1161.2 429.7 L1163.2 430.3 L1165.2 431.4 L1167.2 432.9 L1169.2 435.1 L1171.2 436.1 L1173.2 438 L1175.2 439.4 L1177.2 441.2 L1179.2 442.6 L1181.2 443.9 L1183.2 445.5 L1185.2 447.5 L1187.2 448.5 L1189.2 449.3 L1191.2 450.5 L1193.2 452.1 L1195.2 452.9 L1197.2 454.7 L1199.2 456.2 L1201.2 457.6 L1203.2 458.1 L1205.2 460 L1207.2 460.6 L1209.2 462.2 L1211.2 464.1 L1213.2 465.8 L1215.2 466.3 L1217.2 467.5 L1219.2 468.9 L1221.2 469.4 L1223.2 469.8 L1225.2 471.4 L1227.2 473.2 L1229.2 473.6 L1231.2 474.6 L1233.2 476.1 L1235.2 477.4 L1237.2 478.8 L1239.2 479.9 L1241.2 482 L1243.2 484 L1245.2 485.5 L1247.2 486.4 L1249.2 487.8 L1251.2 488.9 L1253.2 490 L1255.2 491.5 L1257.2 492.4 L1259.2 493.8 L1261.2 494.4 L1263.2 495.7 L1265.2 496.2 L1267.2 498 L1269.2 499.5 L1271.2 501.1 L1273.2 501.9 L1275.2 504.2 L1277.2 505.3 L1279.2 506 L1281.2 507.5 L1283.2 509.3 L1285.2 509.8 L1287.2 511.4 L1289.2 513.4 L1291.2 514.6 L1293.2 514.7 L1295.2 515.5 L1297.2 515.9 L1299.2 516 L1301.2 516.7 L1303.2 518.5 L1305.2 520 L1307.2 521.4 L1309.2 523.3 L1311.2 524.1 L1313.2 525.2 L1315.2 525.9 L1317.2 527.1 L1319.2 527.4 L1321.2 528.6 L1323.2 530.2 L1325.2 531.9 L1327.2 532.6 L1329.2 534.9 L1331.2 537.2" fill="none" stroke="#e3222b" stroke-width="6.4" stroke-linejoin="round" stroke-linecap="round"/>
<circle cx="1333.3" cy="537.8" r="3.6" fill="#e3222b"/>
<path d="M838.3 223.4 L840.3 222.9 L842.3 222.3 L844.3 221.4 L846.3 220.8 L848.3 220.2 L850.3 219.2 L852.3 218.7 L854.3 218.5 L856.3 218.1 L858.3 217.7 L860.3 217.3 L862.3 216.5 L864.3 215.4 L866.3 214.8 L868.3 214 L870.3 213.3 L872.3 213.1 L874.3 212.6 L876.3 212.2 L878.3 211.8 L880.3 211.6 L882.3 210.7 L884.3 210 L886.3 209.2 L888.3 208.4 L890.3 207.5 L892.3 206.5 L894.3 205.9 L896.3 205 L898.3 204.2 L900.3 203.6 L902.3 203.5 L904.3 203.6 L906.3 203 L908.3 202.5 L910.3 201.9 L912.3 200.7 L914.3 199.5 L916.3 199.1 L918.3 198.8 L920.3 198 L922.3 197.7 L924.3 197.2 L926.3 196.5 L928.3 195.5 L930.3 195.2 L932.3 194.3 L934.3 193.9 L936.3 193.5 L938.3 193.2 L940.3 192.6 L942.3 192.6 L944.3 191.8 L946.3 190.9 L948.3 190.1 L950.3 189.9 L952.3 188.7 L954.3 188.4 L956.3 188.3 L958.3 188 L960.3 187.1 L962.3 186.7 L964.3 186.2 L966.3 185.4 L968.3 184.8 L970.3 184 L972.3 183.5 L974.3 182.8 L976.3 181.9 L978.3 180.9 L980.3 180.8 L982.3 180.1 L984.3 179.3 L986.3 178.9 L988.3 178.3 L990.3 177.3 L992.3 176.4 L994.3 175.8 L996.3 174.9 L998.3 174.8 L1000.3 174.7 L1002.3 174.6 L1004.3 173.9 L1006.3 173.8 L1008.3 172.8 L1010.3 171.9 L1012.3 171.1 L1014.3 170.9 L1016.3 170.1 L1018.3 169.7 L1020.3 169.1 L1022.3 168.9 L1024.3 168.7 L1026.3 168.6 L1028.3 168.5 L1030.3 168.4 L1032.3 168 L1034.3 166.9 L1036.3 166 L1038.3 165.1 L1040.3 164.4 L1042.3 163.7 L1044.3 163.6 L1046.3 163 L1048.3 162.4 L1050.3 161.8 L1052.3 161.3 L1054.3 160.1 L1056.3 159.5 L1058.3 159.1 L1060.3 158.5 L1062.3 158 L1064.3 157.9 L1066.3 157.4 L1068.3 157.1 L1070.3 156.2 L1072.3 155.2 L1074.3 154 L1076.3 153.5 L1078.3 152.6 L1080.3 152.1 L1082.3 151.9 L1084.3 151.6 L1086.3 150.5 L1088.3 149.9 L1090.3 149.4 L1092.3 148.2 L1094.3 147.7 L1096.3 147.1 L1098.3 146 L1100.3 145.1 L1102.3 145.3 L1104.3 144.8 L1106.3 144.5 L1108.3 144.8 L1110.3 144.4 L1112.3 144.1 L1114.3 143.9 L1116.3 144 L1118.3 143.6 L1120.3 143.6 L1122.3 143.1 L1124.3 143.1 L1126.3 142.7 L1128.3 142.3 L1130.3 142.2 L1132.3 142.3 L1134.3 141.5 L1136.3 141.3 L1138.3 140.9 L1140.3 140.7 L1142.3 139.9 L1144.3 140.2 L1146.3 139.9 L1148.3 139.8 L1150.3 139.3 L1152.3 139.1 L1154.3 138.4 L1156.3 137.7 L1158.3 137.2 L1160.3 136.9 L1162.3 136.8 L1164.3 136.3 L1166.3 136.2 L1168.3 136.1 L1170.3 135.9 L1172.3 135.1 L1174.3 134.8 L1176.3 134.1 L1178.3 133.7 L1180.3 133.2 L1182.3 133.1 L1184.3 132.8 L1186.3 132.6 L1188.3 131.8 L1190.3 131.7 L1192.3 131 L1194.3 130.3 L1196.3 129.8 L1198.3 129.4 L1200.3 128.7 L1202.3 128.8 L1204.3 128.7 L1206.3 128.9 L1208.3 128.7 L1210.3 128.8 L1212.3 128.7 L1214.3 128.6 L1216.3 128.1 L1218.3 127.7 L1220.3 127.4 L1222.3 126.7 L1224.3 126.2 L1226.3 126 L1228.3 125.9 L1230.3 125 L1232.3 124.4 L1234.3 124.4 L1236.3 123.5 L1238.3 123.4 L1240.3 123 L1242.3 123.3 L1244.3 123.1 L1246.3 122.9 L1248.3 122.6 L1250.3 122.3 L1252.3 121.8 L1254.3 121.3 L1256.3 116.3 L1258.3 112.2 L1260.3 109.8 L1262.3 109.4 L1264.3 108.8 L1266.3 108.3 L1268.3 107.9 L1270.3 107.5 L1272.3 107 L1274.3 106.6 L1276.3 106.2 L1278.3 104.5 L1280.3 101.7 L1282.3 99.9 L1284.3 99.1 L1286.3 98.3 L1288.3 97.5 L1290.3 96.7 L1292.3 95.9 L1294.3 95.3 L1296.3 94.8 L1298.3 94.4 L1300.3 93.9 L1302.3 93.4 L1304.3 92.7 L1306.3 92 L1308.3 91.4 L1310.3 90.7 L1312.3 90.2 L1314.3 89.7 L1316.3 89.5 L1318.3 89.1 L1320.3 88.9 L1322.3 88.7 L1324.3 88.4 L1326.3 88 L1328.3 87.6 L1330.3 87.3 L1332.3 85.4 L1334.3 83.5 L1336.3 82.1 L1338.3 80.7 L1340.3 79.6 L1342.3 78.7 L1344.3 78.4 L1346.3 79 L1348.3 82 L1350.3 88.1 L1352.3 90.9 L1354.3 90.2 L1356.3 92.3 L1358.3 92.2" fill="none" stroke="#3c3f9e" stroke-width="6.4" stroke-linejoin="round" stroke-linecap="round"/>
<circle cx="1358" cy="92" r="4.2" fill="#3c3f9e"/>
<line x1="838.3" y1="223.4" x2="1360.1" y2="66.1" stroke="#2aa6df" stroke-width="3" stroke-dasharray="3 5.15"/>
<rect x="821.2" y="66.2" width="538.9" height="475.6" fill="none" stroke="#1a1a1a" stroke-width="1.8"/>
<line x1="916.7" y1="541.8" x2="916.7" y2="536.3" stroke="#1a1a1a" stroke-width="1.5" />
<line x1="1055.7" y1="541.8" x2="1055.7" y2="536.3" stroke="#1a1a1a" stroke-width="1.5" />
<line x1="1194.7" y1="541.8" x2="1194.7" y2="536.3" stroke="#1a1a1a" stroke-width="1.5" />
<line x1="1333.7" y1="541.8" x2="1333.7" y2="536.3" stroke="#1a1a1a" stroke-width="1.5" />
<line x1="916.7" y1="66.2" x2="916.7" y2="71.7" stroke="#1a1a1a" stroke-width="1.5" />
<line x1="1055.7" y1="66.2" x2="1055.7" y2="71.7" stroke="#1a1a1a" stroke-width="1.5" />
<line x1="1194.7" y1="66.2" x2="1194.7" y2="71.7" stroke="#1a1a1a" stroke-width="1.5" />
<line x1="1333.7" y1="66.2" x2="1333.7" y2="71.7" stroke="#1a1a1a" stroke-width="1.5" />
<line x1="821.2" y1="512.2" x2="824.7" y2="512.2" stroke="#1a1a1a" stroke-width="1.5" />
<line x1="1360.1" y1="512.2" x2="1356.6" y2="512.2" stroke="#1a1a1a" stroke-width="1.5" />
<line x1="821.2" y1="475" x2="824.7" y2="475" stroke="#1a1a1a" stroke-width="1.5" />
<line x1="1360.1" y1="475" x2="1356.6" y2="475" stroke="#1a1a1a" stroke-width="1.5" />
<line x1="821.2" y1="448.6" x2="824.7" y2="448.6" stroke="#1a1a1a" stroke-width="1.5" />
<line x1="1360.1" y1="448.6" x2="1356.6" y2="448.6" stroke="#1a1a1a" stroke-width="1.5" />
<line x1="821.2" y1="428.1" x2="824.7" y2="428.1" stroke="#1a1a1a" stroke-width="1.5" />
<line x1="1360.1" y1="428.1" x2="1356.6" y2="428.1" stroke="#1a1a1a" stroke-width="1.5" />
<line x1="821.2" y1="411.4" x2="824.7" y2="411.4" stroke="#1a1a1a" stroke-width="1.5" />
<line x1="1360.1" y1="411.4" x2="1356.6" y2="411.4" stroke="#1a1a1a" stroke-width="1.5" />
<line x1="821.2" y1="397.2" x2="824.7" y2="397.2" stroke="#1a1a1a" stroke-width="1.5" />
<line x1="1360.1" y1="397.2" x2="1356.6" y2="397.2" stroke="#1a1a1a" stroke-width="1.5" />
<line x1="821.2" y1="385" x2="824.7" y2="385" stroke="#1a1a1a" stroke-width="1.5" />
<line x1="1360.1" y1="385" x2="1356.6" y2="385" stroke="#1a1a1a" stroke-width="1.5" />
<line x1="821.2" y1="374.2" x2="824.7" y2="374.2" stroke="#1a1a1a" stroke-width="1.5" />
<line x1="1360.1" y1="374.2" x2="1356.6" y2="374.2" stroke="#1a1a1a" stroke-width="1.5" />
<line x1="821.2" y1="364.5" x2="828.2" y2="364.5" stroke="#1a1a1a" stroke-width="1.5" />
<line x1="1360.1" y1="364.5" x2="1353.1" y2="364.5" stroke="#1a1a1a" stroke-width="1.5" />
<line x1="821.2" y1="300.9" x2="824.7" y2="300.9" stroke="#1a1a1a" stroke-width="1.5" />
<line x1="1360.1" y1="300.9" x2="1356.6" y2="300.9" stroke="#1a1a1a" stroke-width="1.5" />
<line x1="821.2" y1="263.7" x2="824.7" y2="263.7" stroke="#1a1a1a" stroke-width="1.5" />
<line x1="1360.1" y1="263.7" x2="1356.6" y2="263.7" stroke="#1a1a1a" stroke-width="1.5" />
<line x1="821.2" y1="237.3" x2="824.7" y2="237.3" stroke="#1a1a1a" stroke-width="1.5" />
<line x1="1360.1" y1="237.3" x2="1356.6" y2="237.3" stroke="#1a1a1a" stroke-width="1.5" />
<line x1="821.2" y1="216.8" x2="824.7" y2="216.8" stroke="#1a1a1a" stroke-width="1.5" />
<line x1="1360.1" y1="216.8" x2="1356.6" y2="216.8" stroke="#1a1a1a" stroke-width="1.5" />
<line x1="821.2" y1="200.1" x2="824.7" y2="200.1" stroke="#1a1a1a" stroke-width="1.5" />
<line x1="1360.1" y1="200.1" x2="1356.6" y2="200.1" stroke="#1a1a1a" stroke-width="1.5" />
<line x1="821.2" y1="185.9" x2="824.7" y2="185.9" stroke="#1a1a1a" stroke-width="1.5" />
<line x1="1360.1" y1="185.9" x2="1356.6" y2="185.9" stroke="#1a1a1a" stroke-width="1.5" />
<line x1="821.2" y1="173.7" x2="824.7" y2="173.7" stroke="#1a1a1a" stroke-width="1.5" />
<line x1="1360.1" y1="173.7" x2="1356.6" y2="173.7" stroke="#1a1a1a" stroke-width="1.5" />
<line x1="821.2" y1="162.9" x2="824.7" y2="162.9" stroke="#1a1a1a" stroke-width="1.5" />
<line x1="1360.1" y1="162.9" x2="1356.6" y2="162.9" stroke="#1a1a1a" stroke-width="1.5" />
<line x1="821.2" y1="153.2" x2="828.2" y2="153.2" stroke="#1a1a1a" stroke-width="1.5" />
<line x1="1360.1" y1="153.2" x2="1353.1" y2="153.2" stroke="#1a1a1a" stroke-width="1.5" />
<line x1="821.2" y1="89.6" x2="824.7" y2="89.6" stroke="#1a1a1a" stroke-width="1.5" />
<line x1="1360.1" y1="89.6" x2="1356.6" y2="89.6" stroke="#1a1a1a" stroke-width="1.5" />
<text x="915.7" y="577.7" font-size="28.4" text-anchor="middle" fill="#111" >0.1</text>
<text x="1054.7" y="577.7" font-size="28.4" text-anchor="middle" fill="#111" >0.15</text>
<text x="1193.7" y="577.7" font-size="28.4" text-anchor="middle" fill="#111" >0.2</text>
<text x="1328.7" y="577.7" font-size="28.4" text-anchor="middle" fill="#111" >0.25</text>
<text x="809.5" y="161.3" font-size="26.5" text-anchor="end" fill="#111" >10<tspan dy="-9.5" font-size="18.5">2</tspan><tspan dy="9.5">&#8203;</tspan></text>
<text x="809.5" y="375.2" font-size="26.5" text-anchor="end" fill="#111" >10<tspan dy="-9.5" font-size="18.5">1</tspan><tspan dy="9.5">&#8203;</tspan></text>
<text x="1097" y="621.9" font-size="28.2" text-anchor="middle" fill="#111" ><tspan font-style="italic">T</tspan><tspan dy="-13.6" font-size="20"> -1</tspan><tspan dy="13.6">&#8203;</tspan> (K<tspan dy="-13.6" font-size="20"> -1</tspan><tspan dy="13.6">&#8203;</tspan>)</text>
<text transform="translate(748.9 292) rotate(-90)" font-size="28.2" text-anchor="middle" fill="#111"><tspan font-style="italic">R</tspan><tspan dy="8" font-size="16">xx</tspan><tspan dy="-8"> (k&#937;)</tspan></text>
<text x="866.5" y="128.1" font-size="24.6" fill="#3c3f9e"><tspan font-style="italic">R</tspan><tspan dy="8" font-size="13">xx</tspan><tspan dy="-8"> ~ </tspan><tspan font-style="italic">e</tspan><tspan dy="-17" font-size="19.5">&#916;/2<tspan font-style="italic">k</tspan></tspan><tspan dy="7" font-size="11.5" font-style="italic">B</tspan><tspan dy="-7" font-size="19.5" font-style="italic">T</tspan></text>
<text x="864" y="168.5" font-size="24.6" text-anchor="start" fill="#3c3f9e" >&#916; &#8776; 18 K</text>
<text x="866.5" y="430" font-size="24.6" fill="#e3222b"><tspan font-style="italic">R</tspan><tspan dy="8" font-size="13">xx</tspan><tspan dy="-8"> ~ </tspan><tspan font-style="italic">e</tspan><tspan dy="-17" font-size="19.5">-&#916;/2<tspan font-style="italic">k</tspan></tspan><tspan dy="7" font-size="11.5" font-style="italic">B</tspan><tspan dy="-7" font-size="19.5" font-style="italic">T</tspan></text>
<text x="864" y="472.5" font-size="24.6" text-anchor="start" fill="#e3222b" >&#916; &#8776; 37 K</text>
<text x="1340.5" y="176" font-size="24.6" text-anchor="end" fill="#111" ><tspan font-style="italic">D/&#949;</tspan><tspan dy="8" font-size="13">0</tspan><tspan dy="-8">&#8203;</tspan> = -70 mV/nm</text>
<text x="1341.5" y="305.7" font-size="24.6" text-anchor="end" fill="#111" ><tspan font-style="italic">D</tspan><tspan dy="8" font-size="13.5">c</tspan><tspan dy="-8">&#8203;</tspan>/<tspan font-style="italic">&#949;</tspan><tspan dy="8" font-size="13">0</tspan><tspan dy="-8">&#8203;</tspan> = -50 mV/nm</text>
<text x="1173" y="422" font-size="24.6" text-anchor="start" fill="#111" ><tspan font-style="italic">D</tspan> = 0</text>
</g>
<g id="panel-c">
<text x="1407" y="23" font-size="26" text-anchor="start" fill="#111" font-weight="bold">c</text>
<rect x="1499" y="65.8" width="253" height="476.1" fill="#d3d4d6"/>
<rect x="1752" y="65.8" width="280.8" height="476.1" fill="#b7d6ed"/>
<path d="M1527.2 261.6 L1529.1 261.8 L1531.6 262 L1534.6 262.2 L1538 262.4 L1541.6 262.7 L1545.2 263.1 L1548.9 263.5 L1552.4 264 L1555.7 264.6 L1558.8 265.3 L1561.9 266 L1565 266.8 L1568.1 267.6 L1571.2 268.5 L1574.2 269.5 L1577.2 270.6 L1580.2 271.7 L1583 272.9 L1585.8 274.2 L1588.5 275.6 L1591.1 277 L1593.8 278.6 L1596.3 280.1 L1598.8 281.8 L1601.3 283.4 L1603.8 285.1 L1606.2 286.8 L1608.9 288.7 L1611.5 290.8 L1614.1 292.8 L1616.6 294.9 L1619.1 297 L1621.6 299.1 L1624 301.2 L1626.4 303.2 L1629.1 305.4 L1631.6 307.5 L1634.2 309.5 L1636.6 311.6 L1639.1 313.7 L1641.6 316 L1644.1 318.4 L1646.3 320.6 L1648.5 322.9 L1650.7 325.3 L1653 327.7 L1655.2 330.3 L1657.4 332.9 L1659.6 335.7 L1661.8 338.6 L1663.6 341.1 L1665.4 343.6 L1667.2 346.3 L1669 349 L1670.8 351.8 L1672.5 354.7 L1674.3 357.6 L1676 360.5 L1677.7 363.4 L1679.4 366.3 L1680.9 369 L1682.3 371.7 L1683.8 374.5 L1685.2 377.3 L1686.6 380.2 L1688 383 L1689.4 385.8 L1690.7 388.6 L1692 391.4 L1693.3 394 L1694.6 396.6 L1696.1 399.6 L1697.6 402.6 L1699 405.5 L1700.4 408.3 L1701.7 411.1 L1703.1 413.8 L1704.4 416.5 L1705.8 419.2 L1707.2 421.9 L1708.8 424.8 L1710.3 427.7 L1711.9 430.5 L1713.5 433.3 L1715.1 436 L1716.6 438.8 L1718.2 441.7 L1719.8 444.6 L1721.2 447.3 L1722.7 450 L1724.1 452.7 L1725.6 455.5 L1727 458.3 L1728.5 461.1 L1729.9 464 L1731.2 466.9 L1732.5 469.8 L1733.8 472.8 L1735 475.9 L1736.2 479.2 L1737.4 482.4 L1738.5 485.6 L1739.6 488.8 L1740.7 491.9 L1741.7 494.8 L1742.6 497.6 L1743.7 501 L1744.8 504.2 L1745.8 507.3 L1746.7 510.2 L1747.5 513 L1748.2 515.5 L1748.9 517.8 L1750.2 522.3 L1751 525.7 L1751.6 527.9" fill="none" stroke="#868686" stroke-width="1.9" stroke-dasharray="7.5 5"/>
<path d="M1754.5 527 L1754.8 524.8 L1755.3 521.6 L1755.8 517.9 L1756.4 514 L1757 510.3 L1757.5 507 L1758 504 L1758.5 501.6 L1759.1 499.2 L1759.6 496.2 L1760.2 492 L1760.5 489.5 L1760.8 486.7 L1761.2 483.7 L1761.5 480.4 L1761.9 477 L1762.2 473.5 L1762.6 470 L1762.9 466.5 L1763.3 463.1 L1763.7 460 L1764 457 L1764.4 453.7 L1764.8 450.7 L1765.2 447.8 L1765.6 445.1 L1766 442.3 L1766.4 439.5 L1766.9 436.6 L1767.3 433.5 L1767.8 430 L1768.2 427.3 L1768.6 424.5 L1769 421.7 L1769.4 418.9 L1769.8 415.9 L1770.2 412.9 L1770.6 409.8 L1771.1 406.5 L1771.5 403 L1772 399.4 L1772.4 395.6 L1772.9 391.6 L1773.2 389.1 L1773.5 386.4 L1773.8 383.6 L1774.1 380.7 L1774.4 377.7 L1774.7 374.6 L1775 371.5 L1775.3 368.3 L1775.7 365 L1776 361.8 L1776.3 358.5 L1776.6 355.3 L1777 352 L1777.3 348.8 L1777.6 345.7 L1777.9 342.6 L1778.2 339.5 L1778.6 336.6 L1778.9 333.7 L1779.2 331 L1779.6 327.5 L1780 324.1 L1780.4 320.7 L1780.9 317.4 L1781.3 314.2 L1781.7 311.1 L1782.1 308 L1782.5 305 L1782.9 302 L1783.3 299.1 L1783.7 296.1 L1784.1 293.3 L1784.6 290.4 L1785 287.6 L1785.4 284.8 L1785.9 281.3 L1786.5 277.9 L1787 274.6 L1787.5 271.3 L1788.1 268 L1788.6 264.9 L1789.1 261.7 L1789.7 258.7 L1790.2 255.6 L1790.7 252.7 L1791.3 249.8 L1791.8 246.9 L1792.4 243.5 L1793 240.2 L1793.6 236.9 L1794.2 233.7 L1794.7 230.6 L1795.3 227.6 L1795.9 224.7 L1796.6 221.9 L1797.3 219.2 L1798 216.6 L1799.1 213.2 L1800.1 210.3 L1801.2 207.5 L1802.4 204.9 L1803.7 202.4 L1805.2 199.8 L1806.9 197 L1808.6 194.4 L1810.4 191.8 L1812.4 189 L1814.6 186.3 L1816.7 183.6 L1818.9 181 L1821.1 178.5 L1823.3 176.2 L1825.7 173.7 L1828.1 171.5 L1830.5 169.3 L1833 167.3 L1835.5 165.3 L1838.2 163.2 L1841 161.1 L1843.3 159.4 L1845.6 157.8 L1848 156.1 L1850.5 154.5 L1853 152.8 L1855.6 151.1 L1858.2 149.4 L1860.9 147.7 L1863.7 145.9 L1866.3 144.2 L1868.9 142.4 L1871.6 140.6 L1874.4 138.8 L1877.3 136.9 L1880.1 135.1 L1883 133.3 L1885.8 131.5 L1888.7 129.9 L1891.5 128.3 L1894.3 126.8 L1897.1 125.4 L1899.9 124.1 L1902.7 122.8 L1905.5 121.5 L1908.4 120.3 L1911.2 119.2 L1914 118.1 L1916.9 117.1 L1919.8 116.1 L1922.7 115.2 L1925.7 114.4 L1928.7 113.6 L1931.7 112.9 L1934.8 112.2 L1937.8 111.6 L1940.8 111 L1943.7 110.4 L1946.7 109.9 L1949.5 109.3 L1952.9 108.6 L1956.3 108 L1959.6 107.5 L1962.8 106.9 L1966 106.4 L1969.3 105.9 L1972.6 105.5 L1976 105 L1979.1 104.6 L1982.3 104.2 L1985.6 103.8 L1988.8 103.4 L1992.1 103 L1995.4 102.6 L1998.6 102.3 L2001.9 102 L2005 101.8 L2008.2 101.6 L2011.7 101.5 L2015.1 101.4 L2018.6 101.3 L2022 101.3 L2025.1 101.3 L2027.9 101.2 L2030.2 101.2 L2032 101.2" fill="none" stroke="#868686" stroke-width="1.9" stroke-dasharray="7.5 5"/>
<line x1="1527.2" y1="260.5" x2="1527.2" y2="265.1" stroke="#2d7fc4" stroke-width="2.2" />
<line x1="1518.5" y1="260.5" x2="1535.9" y2="260.5" stroke="#2d7fc4" stroke-width="2.2" />
<line x1="1518.5" y1="265.1" x2="1535.9" y2="265.1" stroke="#2d7fc4" stroke-width="2.2" />
<line x1="1583" y1="271.9" x2="1583" y2="276.5" stroke="#2d7fc4" stroke-width="2.2" />
<line x1="1574.3" y1="271.9" x2="1591.7" y2="271.9" stroke="#2d7fc4" stroke-width="2.2" />
<line x1="1574.3" y1="276.5" x2="1591.7" y2="276.5" stroke="#2d7fc4" stroke-width="2.2" />
<line x1="1639" y1="321.6" x2="1639" y2="326.2" stroke="#2d7fc4" stroke-width="2.2" />
<line x1="1630.3" y1="321.6" x2="1647.7" y2="321.6" stroke="#2d7fc4" stroke-width="2.2" />
<line x1="1630.3" y1="326.2" x2="1647.7" y2="326.2" stroke="#2d7fc4" stroke-width="2.2" />
<line x1="1656" y1="348.1" x2="1656" y2="352.7" stroke="#2d7fc4" stroke-width="2.2" />
<line x1="1647.3" y1="348.1" x2="1664.7" y2="348.1" stroke="#2d7fc4" stroke-width="2.2" />
<line x1="1647.3" y1="352.7" x2="1664.7" y2="352.7" stroke="#2d7fc4" stroke-width="2.2" />
<line x1="1667.6" y1="369.8" x2="1667.6" y2="374.4" stroke="#2d7fc4" stroke-width="2.2" />
<line x1="1658.9" y1="369.8" x2="1676.3" y2="369.8" stroke="#2d7fc4" stroke-width="2.2" />
<line x1="1658.9" y1="374.4" x2="1676.3" y2="374.4" stroke="#2d7fc4" stroke-width="2.2" />
<line x1="1695.1" y1="422.1" x2="1695.1" y2="426.7" stroke="#2d7fc4" stroke-width="2.2" />
<line x1="1686.4" y1="422.1" x2="1703.8" y2="422.1" stroke="#2d7fc4" stroke-width="2.2" />
<line x1="1686.4" y1="426.7" x2="1703.8" y2="426.7" stroke="#2d7fc4" stroke-width="2.2" />
<line x1="1712.3" y1="428.2" x2="1712.3" y2="432.8" stroke="#2d7fc4" stroke-width="2.2" />
<line x1="1703.6" y1="428.2" x2="1721" y2="428.2" stroke="#2d7fc4" stroke-width="2.2" />
<line x1="1703.6" y1="432.8" x2="1721" y2="432.8" stroke="#2d7fc4" stroke-width="2.2" />
<line x1="1729.4" y1="446.8" x2="1729.4" y2="451.4" stroke="#2d7fc4" stroke-width="2.2" />
<line x1="1720.7" y1="446.8" x2="1738.1" y2="446.8" stroke="#2d7fc4" stroke-width="2.2" />
<line x1="1720.7" y1="451.4" x2="1738.1" y2="451.4" stroke="#2d7fc4" stroke-width="2.2" />
<line x1="1740.5" y1="457.4" x2="1740.5" y2="462" stroke="#2d7fc4" stroke-width="2.2" />
<line x1="1731.8" y1="457.4" x2="1749.2" y2="457.4" stroke="#2d7fc4" stroke-width="2.2" />
<line x1="1731.8" y1="462" x2="1749.2" y2="462" stroke="#2d7fc4" stroke-width="2.2" />
<line x1="1751.8" y1="454.2" x2="1751.8" y2="541.9" stroke="#2d7fc4" stroke-width="1.8" />
<line x1="1742.5" y1="454.2" x2="1761" y2="454.2" stroke="#2d7fc4" stroke-width="1.8" />
<line x1="1762.8" y1="389.8" x2="1762.8" y2="424.9" stroke="#2d7fc4" stroke-width="1.9" />
<line x1="1753.1" y1="389.8" x2="1772.5" y2="389.8" stroke="#2d7fc4" stroke-width="1.9" />
<line x1="1753.1" y1="424.9" x2="1772.5" y2="424.9" stroke="#2d7fc4" stroke-width="1.9" />
<line x1="1774.1" y1="325.2" x2="1774.1" y2="406.7" stroke="#2d7fc4" stroke-width="1.9" />
<line x1="1764.4" y1="325.2" x2="1783.8" y2="325.2" stroke="#2d7fc4" stroke-width="1.9" />
<line x1="1764.4" y1="406.7" x2="1783.8" y2="406.7" stroke="#2d7fc4" stroke-width="1.9" />
<line x1="1785.5" y1="260.3" x2="1785.5" y2="284.2" stroke="#2d7fc4" stroke-width="1.9" />
<line x1="1775.8" y1="260.3" x2="1795.2" y2="260.3" stroke="#2d7fc4" stroke-width="1.9" />
<line x1="1775.8" y1="284.2" x2="1795.2" y2="284.2" stroke="#2d7fc4" stroke-width="1.9" />
<line x1="1796.8" y1="210.6" x2="1796.8" y2="228.5" stroke="#2d7fc4" stroke-width="1.9" />
<line x1="1787.1" y1="210.6" x2="1806.5" y2="210.6" stroke="#2d7fc4" stroke-width="1.9" />
<line x1="1787.1" y1="228.5" x2="1806.5" y2="228.5" stroke="#2d7fc4" stroke-width="1.9" />
<line x1="1807.7" y1="186.3" x2="1807.7" y2="197.7" stroke="#2d7fc4" stroke-width="1.9" />
<line x1="1798" y1="186.3" x2="1817.4" y2="186.3" stroke="#2d7fc4" stroke-width="1.9" />
<line x1="1798" y1="197.7" x2="1817.4" y2="197.7" stroke="#2d7fc4" stroke-width="1.9" />
<line x1="1863.7" y1="127" x2="1863.7" y2="159.8" stroke="#2d7fc4" stroke-width="1.9" />
<line x1="1854" y1="127" x2="1873.4" y2="127" stroke="#2d7fc4" stroke-width="1.9" />
<line x1="1854" y1="159.8" x2="1873.4" y2="159.8" stroke="#2d7fc4" stroke-width="1.9" />
<line x1="1919.8" y1="102.3" x2="1919.8" y2="128.5" stroke="#2d7fc4" stroke-width="1.9" />
<line x1="1910.1" y1="102.3" x2="1929.5" y2="102.3" stroke="#2d7fc4" stroke-width="1.9" />
<line x1="1910.1" y1="128.5" x2="1929.5" y2="128.5" stroke="#2d7fc4" stroke-width="1.9" />
<line x1="1976" y1="98" x2="1976" y2="118.7" stroke="#2d7fc4" stroke-width="1.9" />
<line x1="1966.3" y1="98" x2="1985.7" y2="98" stroke="#2d7fc4" stroke-width="1.9" />
<line x1="1966.3" y1="118.7" x2="1985.7" y2="118.7" stroke="#2d7fc4" stroke-width="1.9" />
<line x1="2032.3" y1="92.4" x2="2032.3" y2="112.4" stroke="#2d7fc4" stroke-width="1.9" />
<line x1="2022.6" y1="92.4" x2="2042" y2="92.4" stroke="#2d7fc4" stroke-width="1.9" />
<line x1="2022.6" y1="112.4" x2="2042" y2="112.4" stroke="#2d7fc4" stroke-width="1.9" />
<circle cx="1527.2" cy="262.8" r="7.5" fill="none" stroke="#111" stroke-width="2"/>
<circle cx="1583" cy="274.2" r="7.5" fill="none" stroke="#111" stroke-width="2"/>
<circle cx="1639" cy="323.9" r="7.5" fill="none" stroke="#111" stroke-width="2"/>
<circle cx="1656" cy="350.4" r="7.5" fill="none" stroke="#111" stroke-width="2"/>
<circle cx="1667.6" cy="372.1" r="7.5" fill="none" stroke="#111" stroke-width="2"/>
<circle cx="1695.1" cy="424.4" r="7.5" fill="none" stroke="#111" stroke-width="2"/>
<circle cx="1712.3" cy="430.5" r="7.5" fill="none" stroke="#111" stroke-width="2"/>
<circle cx="1729.4" cy="449.1" r="7.5" fill="none" stroke="#111" stroke-width="2"/>
<circle cx="1740.5" cy="459.7" r="7.5" fill="none" stroke="#111" stroke-width="2"/>
<circle cx="1762.8" cy="407.5" r="7.5" fill="none" stroke="#111" stroke-width="2"/>
<circle cx="1774.1" cy="366.3" r="7.5" fill="none" stroke="#111" stroke-width="2"/>
<circle cx="1785.5" cy="272.5" r="7.5" fill="none" stroke="#111" stroke-width="2"/>
<circle cx="1796.8" cy="219.7" r="7.5" fill="none" stroke="#111" stroke-width="2"/>
<circle cx="1807.7" cy="191.9" r="7.5" fill="none" stroke="#111" stroke-width="2"/>
<circle cx="1863.7" cy="143.4" r="7.5" fill="none" stroke="#111" stroke-width="2"/>
<circle cx="1919.8" cy="115.1" r="7.5" fill="none" stroke="#111" stroke-width="2"/>
<circle cx="1976" cy="108.6" r="7.5" fill="none" stroke="#111" stroke-width="2"/>
<circle cx="2032.3" cy="102.5" r="7.5" fill="none" stroke="#111" stroke-width="2"/>
<circle cx="1751.7" cy="527.9" r="6.8" fill="none" stroke="#e8212c" stroke-width="5"/>
<rect x="1499" y="65.8" width="533.8" height="476.1" fill="none" stroke="#3a3a3a" stroke-width="1.9"/>
<line x1="1583.5" y1="541.9" x2="1583.5" y2="536.4" stroke="#1a1a1a" stroke-width="1.5" />
<line x1="1695.8" y1="541.9" x2="1695.8" y2="536.4" stroke="#1a1a1a" stroke-width="1.5" />
<line x1="1808.2" y1="541.9" x2="1808.2" y2="536.4" stroke="#1a1a1a" stroke-width="1.5" />
<line x1="1920.5" y1="541.9" x2="1920.5" y2="536.4" stroke="#1a1a1a" stroke-width="1.5" />
<line x1="1583.5" y1="65.8" x2="1583.5" y2="71.3" stroke="#1a1a1a" stroke-width="1.5" />
<line x1="1695.8" y1="65.8" x2="1695.8" y2="71.3" stroke="#1a1a1a" stroke-width="1.5" />
<line x1="1808.2" y1="65.8" x2="1808.2" y2="71.3" stroke="#1a1a1a" stroke-width="1.5" />
<line x1="1920.5" y1="65.8" x2="1920.5" y2="71.3" stroke="#1a1a1a" stroke-width="1.5" />
<line x1="1499" y1="423.1" x2="1504.5" y2="423.1" stroke="#1a1a1a" stroke-width="1.5" />
<line x1="1499" y1="304.3" x2="1504.5" y2="304.3" stroke="#1a1a1a" stroke-width="1.5" />
<line x1="1499" y1="185.5" x2="1504.5" y2="185.5" stroke="#1a1a1a" stroke-width="1.5" />
<line x1="2032.8" y1="423.1" x2="2027.3" y2="423.1" stroke="#1a1a1a" stroke-width="1.5" />
<line x1="2032.8" y1="304.3" x2="2027.3" y2="304.3" stroke="#1a1a1a" stroke-width="1.5" />
<line x1="2032.8" y1="185.5" x2="2027.3" y2="185.5" stroke="#1a1a1a" stroke-width="1.5" />
<text x="0" y="0" font-size="28.3" text-anchor="middle" fill="#111" transform="translate(1579 579.1) scale(1.06 1)" >-80</text>
<text x="0" y="0" font-size="28.3" text-anchor="middle" fill="#111" transform="translate(1691.3 579.1) scale(1.06 1)" >-60</text>
<text x="0" y="0" font-size="28.3" text-anchor="middle" fill="#111" transform="translate(1803.7 579.1) scale(1.06 1)" >-40</text>
<text x="0" y="0" font-size="28.3" text-anchor="middle" fill="#111" transform="translate(1916 579.1) scale(1.06 1)" >-20</text>
<text x="0" y="0" font-size="28.3" text-anchor="middle" fill="#111" transform="translate(2032.8 579.1) scale(1.06 1)" >0</text>
<text x="0" y="0" font-size="28.3" text-anchor="end" fill="#111" transform="translate(1489 545.6) scale(1.06 1)" >0</text>
<text x="0" y="0" font-size="28.3" text-anchor="end" fill="#111" transform="translate(1489 431.7) scale(1.06 1)" >10</text>
<text x="0" y="0" font-size="28.3" text-anchor="end" fill="#111" transform="translate(1489 317.6) scale(1.06 1)" >20</text>
<text x="0" y="0" font-size="28.3" text-anchor="end" fill="#111" transform="translate(1489 203.3) scale(1.06 1)" >30</text>
<text x="0" y="0" font-size="28.3" text-anchor="end" fill="#111" transform="translate(1489 89) scale(1.06 1)" >40</text>
<text x="0" y="0" font-size="27.4" text-anchor="middle" fill="#111" transform="translate(1764 626.6) scale(1.08 1)" ><tspan font-style="italic">D/&#949;</tspan><tspan dy="8" font-size="14">0</tspan><tspan dy="-8">&#8203;</tspan> (mV/nm)</text>
<text transform="translate(1421.4 299) rotate(-90) scale(0.965 1)" font-size="28.6" text-anchor="middle" fill="#111">Energy Gap (K)</text>
<text x="0" y="0" font-size="27.2" text-anchor="middle" fill="#222" transform="translate(1636.8 182.2) scale(1.1 1)" >FM</text>
<text x="0" y="0" font-size="27.2" text-anchor="middle" fill="#222" transform="translate(1637.3 217.7) scale(1.1 1)" >Insulator</text>
<text x="0" y="0" font-size="27.2" text-anchor="middle" fill="#222" transform="translate(1939.5 175.5) scale(1.1 1)" >QAH</text>
<text x="0" y="0" font-size="27.2" text-anchor="middle" fill="#222" transform="translate(1939.5 211.6) scale(1.1 1)" >Insulator</text>
<text x="0" y="0" font-size="27" text-anchor="start" fill="#111" transform="translate(1782 511) scale(1.06 1)" ><tspan font-style="italic">D</tspan><tspan dy="8" font-size="15">c</tspan><tspan dy="-8">&#8203;</tspan>/<tspan font-style="italic">&#949;</tspan><tspan dy="8" font-size="14">0</tspan><tspan dy="-8">&#8203;</tspan> = -50 mV/nm</text>
</g>
<g id="panel-d">
<text x="13" y="719.5" font-size="26" text-anchor="start" fill="#111" font-weight="bold">d</text>
<rect x="110.2" y="737.8" width="539" height="475.4" fill="#f3f3f3"/>
<g clip-path="url(#dclip)">
<rect x="100" y="730" width="560" height="490" fill="url(#dgrad)"/>
<g mask="url(#dmask)"><rect x="100" y="730" width="560" height="490" fill="url(#dstreak)"/></g>
<polygon points="462,958 470,925 486,918 500,929 530,942 607,992 603,1000 560,1024 519,1057 495,1068 478,1086 466,1080 460,1040 458,1000" fill="#dc5a4e" filter="url(#db1)"/>
<polygon points="478,962 484,934 492,928 502,933 530,944 607,994 600,1000 560,1022 519,1055 495,1066 484,1076 478,1070 474,1040 473,1000" fill="#b5212f" filter="url(#db2)"/>
<g mask="url(#dmask)" opacity="0.25"><rect x="100" y="730" width="560" height="490" fill="url(#dstreak)"/></g>
<line x1="165" y1="895" x2="330" y2="1040" stroke="#c3dcee" stroke-width="2" stroke-opacity="0.4"/>
<line x1="128" y1="912" x2="250" y2="1020" stroke="#c3dcee" stroke-width="2" stroke-opacity="0.25"/>
<line x1="250" y1="985" x2="300" y2="1030" stroke="#c3dcee" stroke-width="2" stroke-opacity="0.4"/>
<line x1="200" y1="880" x2="260" y2="935" stroke="#c3dcee" stroke-width="2" stroke-opacity="0.2"/>
<line x1="225" y1="965" x2="275" y2="1010" stroke="#f6c9b4" stroke-width="1.5" stroke-opacity="0.6"/>
<polygon points="469.6,870 470.5,878 472.1,887 476,896 480.7,904.3 484,911 487.1,917.1 493,925 500,931 508,935.5 517,938.6 530,944 545,948.5 558,956 572.8,966 586,976 598,985 607.1,994.6 600,999 594.3,1003.2 588,1004.5 581.4,1006.4 576,1011 572.8,1013.9 567,1016.5 562.1,1022.5 555,1026 549.3,1032.1 541,1036 534.3,1042.9 526,1047.5 519.3,1055.7 513,1058 508.6,1064.3 502,1064 495.7,1066.4 489,1073.5 482.9,1077.1 476,1084.5 470,1087.9 465,1096 461.4,1102.9 457,1113 452.9,1122.1 447,1134 442.1,1145.7 436,1159 429.3,1171.4 423,1184 416.4,1195 434.8,1211.8 645.6,1025.2" fill="#050608"/>
<polygon points="445.7,1137.2 448.6,1135.4 440.2,1130.1" fill="#fff" fill-opacity="0.9"/>
<polygon points="451.7,1123.2 454.6,1121.4 448.5,1118.1" fill="#fff" fill-opacity="0.9"/>
<polygon points="457.7,1109.2 460.6,1107.4 453,1102.8" fill="#fff" fill-opacity="0.9"/>
<polygon points="468.7,1091.2 471.6,1089.4 463.2,1084.1" fill="#fff" fill-opacity="0.9"/>
<polygon points="476.7,1083.2 479.6,1081.4 473.5,1078.1" fill="#fff" fill-opacity="0.9"/>
<polygon points="484.7,1077.2 487.6,1075.4 480,1070.8" fill="#fff" fill-opacity="0.9"/>
<polygon points="495.7,1068.2 498.6,1066.4 491.7,1062.4" fill="#fff" fill-opacity="0.9"/>
<polygon points="509.7,1064.2 512.6,1062.4 506.5,1059.1" fill="#fff" fill-opacity="0.9"/>
<polygon points="517.7,1057.2 520.6,1055.4 513.7,1051.4" fill="#fff" fill-opacity="0.9"/>
<polygon points="531.7,1046.2 534.6,1044.4 528.5,1041.1" fill="#fff" fill-opacity="0.9"/>
<polygon points="546.7,1035.2 549.6,1033.4 544.2,1030.7" fill="#fff" fill-opacity="0.9"/>
<polygon points="428.7,1172.2 431.6,1170.4 425.5,1167.1" fill="#fff" fill-opacity="0.9"/>
<polygon points="436.7,1154.2 439.6,1152.4 434.2,1149.7" fill="#fff" fill-opacity="0.9"/>
</g>
<path d="M527.8 946.4 L529.8 947.1 L532.7 948 L536.1 949.2 L539.6 950.4 L542.8 951.8 L545.8 953.3 L548.8 955 L551.8 956.7 L554.8 958.6 L557.8 960.4 L560.8 962.3 L563.9 964.2 L567 966.1 L569.9 968.1 L572.8 970 L575.5 971.9 L578.1 973.9 L580.6 975.8 L583.2 977.7 L585.7 979.6 L588.4 981.4 L591.4 983.3 L594.2 985 L596.7 986.7 L598.6 988.2 L601.1 991 L601.2 993.6 L599.8 996.1 L597.4 998.8 L594.3 1001.1 L591.4 1002.3 L588.1 1003.2 L584.6 1004.1 L581.4 1005.4 L578.6 1007.2 L576.1 1009.2 L573.5 1011.5 L570.7 1013.9 L568.3 1015.9 L565.7 1018.1 L563.1 1020.3 L560.4 1022.5 L557.8 1024.6 L555.3 1026.6 L552.8 1028.6 L550.3 1030.5 L547.7 1032.4 L545 1034.3 L542.1 1036.1 L539 1037.8 L535.8 1039.5 L532.8 1041.2 L530 1042.9 L527 1045.2 L524.2 1047.5 L521.7 1049.7 L519.3 1051.4 L516.3 1053.2 L513.5 1054.4 L510.7 1054.6 L507.8 1053.8 L504.9 1052.1 L502.1 1049.3 L500.5 1047 L498.9 1044.1 L497.3 1040.9 L495.9 1037.6 L494.6 1034.3 L493.5 1031 L492.5 1027.7 L491.6 1024.2 L490.9 1020.7 L490.4 1017.1 L490.1 1014 L489.8 1010.8 L489.7 1007.5 L489.7 1004.2 L489.8 1001 L490 997.9 L490.4 994.3 L490.9 990.9 L491.6 987.5 L492.5 984.1 L493.6 980.7 L494.7 977.8 L495.9 974.8 L497.3 971.9 L498.8 969 L500.4 966.2 L502.1 963.6 L504 961.1 L506.1 958.7 L508.3 956.4 L510.5 954.2 L512.8 952.3 L515 950.7 L518.5 948.9 L522.2 947.7 L525.5 947 L527.8 946.4 Z" fill="none" stroke="#f9b52e" stroke-width="2.3" stroke-dasharray="5.5 3.2"/>
<text x="526.5" y="1080.5" font-size="29" text-anchor="start" fill="#f3e52b" >QAH</text>
<rect x="542.2" y="793.5" width="25.3" height="122.5" fill="url(#dcb)" stroke="#222" stroke-width="1.3"/>
<line x1="565" y1="855" x2="567.5" y2="855" stroke="#222" stroke-width="1.2" />
<text x="517" y="771.5" font-size="28.2" text-anchor="start" fill="#111" ><tspan font-style="italic">R</tspan><tspan dy="7" font-size="16">xy</tspan><tspan dy="-7">&#8203;</tspan> (k&#937;)</text>
<text x="573.5" y="806" font-size="28.4" text-anchor="start" fill="#111" ><tspan font-style="italic">h</tspan>/<tspan font-style="italic">e</tspan><tspan dy="-9" font-size="17">2</tspan><tspan dy="9">&#8203;</tspan></text>
<text x="591" y="865" font-size="28.4" text-anchor="start" fill="#111" >0</text>
<text x="571" y="921.5" font-size="28.4" text-anchor="start" fill="#111" >-<tspan font-style="italic">h</tspan>/<tspan font-style="italic">e</tspan><tspan dy="-9" font-size="17">2</tspan><tspan dy="9">&#8203;</tspan></text>
<rect x="110.2" y="737.8" width="539" height="475.4" fill="none" stroke="#1a1a1a" stroke-width="1.9"/>
<line x1="169.5" y1="1213.2" x2="169.5" y2="1207.7" stroke="#1a1a1a" stroke-width="1.5" />
<line x1="263.5" y1="1213.2" x2="263.5" y2="1207.7" stroke="#1a1a1a" stroke-width="1.5" />
<line x1="357.5" y1="1213.2" x2="357.5" y2="1207.7" stroke="#1a1a1a" stroke-width="1.5" />
<line x1="451.5" y1="1213.2" x2="451.5" y2="1207.7" stroke="#1a1a1a" stroke-width="1.5" />
<line x1="545.5" y1="1213.2" x2="545.5" y2="1207.7" stroke="#1a1a1a" stroke-width="1.5" />
<line x1="639.5" y1="1213.2" x2="639.5" y2="1207.7" stroke="#1a1a1a" stroke-width="1.5" />
<line x1="184.3" y1="737.8" x2="184.3" y2="743.3" stroke="#1a1a1a" stroke-width="1.5" />
<line x1="344.8" y1="737.8" x2="344.8" y2="743.3" stroke="#1a1a1a" stroke-width="1.5" />
<line x1="505.3" y1="737.8" x2="505.3" y2="743.3" stroke="#1a1a1a" stroke-width="1.5" />
<line x1="110.2" y1="812.1" x2="115.7" y2="812.1" stroke="#1a1a1a" stroke-width="1.5" />
<line x1="110.2" y1="903.8" x2="115.7" y2="903.8" stroke="#1a1a1a" stroke-width="1.5" />
<line x1="110.2" y1="995.5" x2="115.7" y2="995.5" stroke="#1a1a1a" stroke-width="1.5" />
<line x1="110.2" y1="1087.2" x2="115.7" y2="1087.2" stroke="#1a1a1a" stroke-width="1.5" />
<line x1="110.2" y1="1178.9" x2="115.7" y2="1178.9" stroke="#1a1a1a" stroke-width="1.5" />
<line x1="649.2" y1="812.1" x2="643.7" y2="812.1" stroke="#1a1a1a" stroke-width="1.5" />
<line x1="649.2" y1="903.8" x2="643.7" y2="903.8" stroke="#1a1a1a" stroke-width="1.5" />
<line x1="649.2" y1="995.5" x2="643.7" y2="995.5" stroke="#1a1a1a" stroke-width="1.5" />
<line x1="649.2" y1="1087.2" x2="643.7" y2="1087.2" stroke="#1a1a1a" stroke-width="1.5" />
<line x1="649.2" y1="1178.9" x2="643.7" y2="1178.9" stroke="#1a1a1a" stroke-width="1.5" />
<text x="164.5" y="1251" font-size="28.4" text-anchor="middle" fill="#111" >-7</text>
<text x="258.5" y="1251" font-size="28.4" text-anchor="middle" fill="#111" >-6</text>
<text x="352.5" y="1251" font-size="28.4" text-anchor="middle" fill="#111" >-5</text>
<text x="446.5" y="1251" font-size="28.4" text-anchor="middle" fill="#111" >-4</text>
<text x="540.5" y="1251" font-size="28.4" text-anchor="middle" fill="#111" >-3</text>
<text x="634.5" y="1251" font-size="28.4" text-anchor="middle" fill="#111" >-2</text>
<text x="182.3" y="723" font-size="28.4" text-anchor="middle" fill="#111" >-2</text>
<text x="339.5" y="723" font-size="28.4" text-anchor="middle" fill="#111" >-1.5</text>
<text x="505.6" y="723" font-size="28.4" text-anchor="middle" fill="#111" >-1</text>
<text x="101.7" y="822.3" font-size="28.9" text-anchor="end" fill="#111" >200</text>
<text x="101.7" y="914" font-size="28.9" text-anchor="end" fill="#111" >100</text>
<text x="101.7" y="1005.7" font-size="28.9" text-anchor="end" fill="#111" >0</text>
<text x="101.7" y="1097.4" font-size="28.9" text-anchor="end" fill="#111" >-100</text>
<text x="101.7" y="1189.1" font-size="28.9" text-anchor="end" fill="#111" >-200</text>
<text x="384.5" y="685" font-size="28" text-anchor="middle" fill="#111" font-family="'Liberation Serif',serif" font-style="italic">&#957;</text>
<text x="366.5" y="1299" font-size="28.4" text-anchor="middle" fill="#111" ><tspan font-style="italic">n</tspan> (<tspan font-weight="bold">&#215;</tspan> 10<tspan dy="-10" font-size="17">12</tspan><tspan dy="10">&#8203;</tspan> cm<tspan dy="-10" font-size="17">-2</tspan><tspan dy="10">&#8203;</tspan>)</text>
<text transform="translate(23 979) rotate(-90)" font-size="28.6" text-anchor="middle" fill="#111"><tspan font-style="italic">D/&#949;</tspan><tspan dy="6" font-size="16">0</tspan><tspan dy="-6"> (mV/nm)</tspan></text>
</g>
<g id="panel-e">
<text x="709.5" y="718.5" font-size="26" text-anchor="start" fill="#111" font-weight="bold">e</text>
<rect x="821.3" y="735.8" width="537.9" height="477.4" fill="#f3f3f3"/>
<g clip-path="url(#eclip)">
<rect x="815" y="730" width="550" height="490" fill="#fdebe3"/>
<ellipse cx="1120" cy="960" rx="150" ry="170" fill="#fad5c6" filter="url(#eb0)"/>
<path d="M982 812 Q1060 985 995 1150 L1055 1175 Q1120 1030 1262 992 L1262 958 Q1125 935 1040 785 Z" fill="#f3b09a" filter="url(#eb1)"/>
<path d="M1028 860 Q1072 985 1035 1098 L1075 1118 Q1118 1030 1195 988 L1195 964 Q1120 940 1066 845 Z" fill="#ea836c" filter="url(#eb2)"/>
<path d="M1058 905 Q1070 985 1052 1065 L1085 1085 Q1115 1025 1185 984 L1185 968 Q1118 945 1085 895 Z" fill="#d0403d" filter="url(#eb3)"/>
<path d="M1082 928 L1118 926 L1170 972 L1128 1010 L1100 1062 L1068 1052 L1064 985 Z" fill="#b4202e" filter="url(#eb4)"/>
</g>
<path d="M1111.7 936.3 L1113.5 936.9 L1116 937.7 L1118.9 938.7 L1122.2 939.8 L1125.5 941 L1128.8 942.4 L1131.9 943.9 L1134.4 945.3 L1137 946.9 L1139.6 948.5 L1142.1 950.3 L1144.7 952.1 L1147.2 954 L1149.7 955.9 L1152.1 957.8 L1154.7 959.8 L1157.6 961.8 L1160.6 963.9 L1163.6 966.1 L1166.2 968.2 L1168.4 970.3 L1169.9 972.3 L1170.5 974.2 L1169.9 976.5 L1168 978.6 L1165.1 980.6 L1161.7 982.5 L1158 984.6 L1154.6 986.8 L1152.4 988.4 L1150 990 L1147.4 991.7 L1144.8 993.4 L1142.2 995.1 L1139.5 996.8 L1136.9 998.6 L1134.3 1000.3 L1131.9 1002 L1129.2 1003.9 L1126.6 1005.9 L1124 1007.9 L1121.4 1009.9 L1118.9 1011.8 L1116.4 1013.7 L1114 1015.5 L1111.7 1017.1 L1108.7 1019.3 L1105.7 1021.7 L1102.9 1023.9 L1100.2 1025.7 L1097.6 1026.9 L1095.3 1027.2 L1092.8 1026.3 L1090.7 1024.2 L1088.7 1021.3 L1086.9 1018 L1085.2 1014.6 L1084 1012.1 L1082.8 1009.4 L1081.7 1006.5 L1080.6 1003.5 L1079.7 1000.4 L1078.9 997.4 L1078.3 994.4 L1077.8 991 L1077.5 987.7 L1077.4 984.3 L1077.5 980.9 L1077.8 977.6 L1078.3 974.2 L1078.9 971.2 L1079.6 968.2 L1080.5 965.1 L1081.5 962.1 L1082.6 959.2 L1083.9 956.5 L1085.2 954 L1087.3 950.9 L1089.8 948.1 L1092.4 945.5 L1095.1 943.3 L1097.8 941.4 L1101.5 939.5 L1105.5 938.1 L1109.2 937 L1111.7 936.3 Z" fill="none" stroke="#f9b52e" stroke-width="2.2" stroke-dasharray="5.5 3.2"/>
<line x1="1176" y1="1085.3" x2="1151.5" y2="1046" stroke="#111" stroke-width="1.6" />
<polygon points="1146.5,1037.5 1158.5,1045 1149.5,1050.5" fill="#111"/>
<text x="1170.5" y="1118.5" font-size="27.5" text-anchor="start" fill="#111" >QAH</text>
<rect x="1256.6" y="798.3" width="25.2" height="122.2" fill="url(#ecb)" stroke="#222" stroke-width="1.3"/>
<text x="1208.5" y="777.5" font-size="28.7" text-anchor="start" fill="#111" >RMCD (%)</text>
<text x="1289.5" y="810" font-size="28.4" text-anchor="start" fill="#111" >8</text>
<text x="1289.5" y="926" font-size="28.4" text-anchor="start" fill="#111" >0</text>
<rect x="821.3" y="735.8" width="537.9" height="477.4" fill="none" stroke="#1a1a1a" stroke-width="1.9"/>
<line x1="888" y1="1213.2" x2="888" y2="1207.7" stroke="#1a1a1a" stroke-width="1.5" />
<line x1="1045.4" y1="1213.2" x2="1045.4" y2="1207.7" stroke="#1a1a1a" stroke-width="1.5" />
<line x1="1202.8" y1="1213.2" x2="1202.8" y2="1207.7" stroke="#1a1a1a" stroke-width="1.5" />
<line x1="956.9" y1="735.8" x2="956.9" y2="741.3" stroke="#1a1a1a" stroke-width="1.5" />
<line x1="1091.2" y1="735.8" x2="1091.2" y2="741.3" stroke="#1a1a1a" stroke-width="1.5" />
<line x1="1225.5" y1="735.8" x2="1225.5" y2="741.3" stroke="#1a1a1a" stroke-width="1.5" />
<line x1="821.3" y1="746.3" x2="826.8" y2="746.3" stroke="#1a1a1a" stroke-width="1.5" />
<line x1="821.3" y1="823" x2="826.8" y2="823" stroke="#1a1a1a" stroke-width="1.5" />
<line x1="821.3" y1="899.7" x2="826.8" y2="899.7" stroke="#1a1a1a" stroke-width="1.5" />
<line x1="821.3" y1="976.4" x2="826.8" y2="976.4" stroke="#1a1a1a" stroke-width="1.5" />
<line x1="821.3" y1="1053.1" x2="826.8" y2="1053.1" stroke="#1a1a1a" stroke-width="1.5" />
<line x1="821.3" y1="1129.8" x2="826.8" y2="1129.8" stroke="#1a1a1a" stroke-width="1.5" />
<line x1="821.3" y1="1206.5" x2="826.8" y2="1206.5" stroke="#1a1a1a" stroke-width="1.5" />
<line x1="1359.2" y1="746.3" x2="1353.7" y2="746.3" stroke="#1a1a1a" stroke-width="1.5" />
<line x1="1359.2" y1="823" x2="1353.7" y2="823" stroke="#1a1a1a" stroke-width="1.5" />
<line x1="1359.2" y1="899.7" x2="1353.7" y2="899.7" stroke="#1a1a1a" stroke-width="1.5" />
<line x1="1359.2" y1="976.4" x2="1353.7" y2="976.4" stroke="#1a1a1a" stroke-width="1.5" />
<line x1="1359.2" y1="1053.1" x2="1353.7" y2="1053.1" stroke="#1a1a1a" stroke-width="1.5" />
<line x1="1359.2" y1="1129.8" x2="1353.7" y2="1129.8" stroke="#1a1a1a" stroke-width="1.5" />
<line x1="1359.2" y1="1206.5" x2="1353.7" y2="1206.5" stroke="#1a1a1a" stroke-width="1.5" />
<text x="885" y="1251" font-size="28.4" text-anchor="middle" fill="#111" >-6</text>
<text x="1042.4" y="1251" font-size="28.4" text-anchor="middle" fill="#111" >-4</text>
<text x="1199.8" y="1251" font-size="28.4" text-anchor="middle" fill="#111" >-2</text>
<text x="952.9" y="723" font-size="28.4" text-anchor="middle" fill="#111" >-1.5</text>
<text x="1089.7" y="723" font-size="28.4" text-anchor="middle" fill="#111" >-1</text>
<text x="1227" y="723" font-size="28.4" text-anchor="middle" fill="#111" >-0.5</text>
<text x="806.5" y="752.8" font-size="29.2" text-anchor="end" fill="#111" >300</text>
<text x="806.5" y="833" font-size="29.2" text-anchor="end" fill="#111" >200</text>
<text x="806.5" y="909.7" font-size="29.2" text-anchor="end" fill="#111" >100</text>
<text x="806.5" y="986.4" font-size="29.2" text-anchor="end" fill="#111" >0</text>
<text x="806.5" y="1063.1" font-size="29.2" text-anchor="end" fill="#111" >-100</text>
<text x="806.5" y="1139.8" font-size="29.2" text-anchor="end" fill="#111" >-200</text>
<text x="806.5" y="1225.5" font-size="29.2" text-anchor="end" fill="#111" >-300</text>
<text x="1089.5" y="685" font-size="28" text-anchor="middle" fill="#111" font-family="'Liberation Serif',serif" font-style="italic">&#957;</text>
<text x="1079.6" y="1299" font-size="28.4" text-anchor="middle" fill="#111" ><tspan font-style="italic">n</tspan> (<tspan font-weight="bold">&#215;</tspan> 10<tspan dy="-10" font-size="17">12</tspan><tspan dy="10">&#8203;</tspan> cm<tspan dy="-10" font-size="17">-2</tspan><tspan dy="10">&#8203;</tspan>)</text>
<text transform="translate(726 984) rotate(-90)" font-size="27.9" text-anchor="middle" fill="#111"><tspan font-style="italic">D/&#949;</tspan><tspan dy="6" font-size="16">0</tspan><tspan dy="-6"> (mV/nm)</tspan></text>
</g>
<g id="panel-f">
<text x="1426" y="719.5" font-size="26" text-anchor="start" fill="#111" font-weight="bold">f</text>
<rect x="1499" y="736.7" width="239.9" height="475.3" fill="#b7d6ed"/>
<rect x="1738.9" y="736.7" width="293.3" height="475.3" fill="#d3d4d6"/>
<line x1="1500.5" y1="1181.9" x2="2032.2" y2="1181.9" stroke="#4d565e" stroke-width="2" stroke-dasharray="18 12.5"/>
<line x1="1738.9" y1="736.7" x2="1738.9" y2="1212" stroke="#56646e" stroke-width="1.7" stroke-dasharray="16 12" stroke-dashoffset="8"/>
<line x1="1818.9" y1="736.7" x2="1818.9" y2="1212" stroke="#56646e" stroke-width="1.7" stroke-dasharray="16 12" stroke-dashoffset="8"/>
<line x1="1506" y1="883.9" x2="1815.2" y2="883.9" stroke="#050505" stroke-width="14.5" stroke-linecap="round"/>
<line x1="1499" y1="883.9" x2="1509" y2="883.9" stroke="#050505" stroke-width="14.5" />
<line x1="1818.9" y1="883.9" x2="1818.9" y2="1181.9" stroke="#050505" stroke-width="2.6" />
<line x1="1819.9" y1="1181.9" x2="2022.2" y2="1181.9" stroke="#050505" stroke-width="14.5" stroke-linecap="round"/>
<line x1="2020.2" y1="1181.9" x2="2031.2" y2="1181.9" stroke="#050505" stroke-width="14.5" />
<line x1="1827.9" y1="1181.9" x2="2028.2" y2="1181.9" stroke="#2b2f33" stroke-width="2" stroke-dasharray="18 12.5" stroke-dashoffset="22.4"/>
<g clip-path="url(#fclip)">
<polyline points="1485.7,1014.7 1738.9,1181.9 1818.9,1130.3" fill="none" stroke="#c3202f" stroke-width="14" stroke-linejoin="miter" stroke-linecap="round"/>
<polyline points="1818.9,995 2045.5,860.7" fill="none" stroke="#c3202f" stroke-width="14" stroke-linecap="round"/>
<line x1="1818.9" y1="1130.3" x2="1818.9" y2="995" stroke="#c3202f" stroke-width="3.2" />
</g>
<rect x="1499" y="736.7" width="533.2" height="475.3" fill="none" stroke="#222" stroke-width="1.9"/>
<line x1="1632.3" y1="1212" x2="1632.3" y2="1206.5" stroke="#1a1a1a" stroke-width="1.5" />
<line x1="1765.6" y1="1212" x2="1765.6" y2="1206.5" stroke="#1a1a1a" stroke-width="1.5" />
<line x1="1898.9" y1="1212" x2="1898.9" y2="1206.5" stroke="#1a1a1a" stroke-width="1.5" />
<line x1="1632.3" y1="736.7" x2="1632.3" y2="742.2" stroke="#1a1a1a" stroke-width="1.5" />
<line x1="1765.6" y1="736.7" x2="1765.6" y2="742.2" stroke="#1a1a1a" stroke-width="1.5" />
<line x1="1898.9" y1="736.7" x2="1898.9" y2="742.2" stroke="#1a1a1a" stroke-width="1.5" />
<line x1="1499" y1="1181.9" x2="1504.5" y2="1181.9" stroke="#1a1a1a" stroke-width="1.5" />
<line x1="1499" y1="1032.9" x2="1504.5" y2="1032.9" stroke="#1a1a1a" stroke-width="1.5" />
<line x1="1499" y1="883.9" x2="1504.5" y2="883.9" stroke="#1a1a1a" stroke-width="1.5" />
<line x1="2032.2" y1="1181.9" x2="2026.7" y2="1181.9" stroke="#1a1a1a" stroke-width="1.5" />
<line x1="2032.2" y1="1092.9" x2="2026.7" y2="1092.9" stroke="#1a1a1a" stroke-width="1.5" />
<line x1="2032.2" y1="1003.9" x2="2026.7" y2="1003.9" stroke="#1a1a1a" stroke-width="1.5" />
<line x1="2032.2" y1="914.9" x2="2026.7" y2="914.9" stroke="#1a1a1a" stroke-width="1.5" />
<line x1="2032.2" y1="825.9" x2="2026.7" y2="825.9" stroke="#1a1a1a" stroke-width="1.5" />
<text x="1499" y="1251" font-size="28.4" text-anchor="middle" fill="#111" >0</text>
<text x="1632.3" y="1251" font-size="28.4" text-anchor="middle" fill="#111" >1</text>
<text x="1765.6" y="1251" font-size="28.4" text-anchor="middle" fill="#111" >2</text>
<text x="1898.9" y="1251" font-size="28.4" text-anchor="middle" fill="#111" >3</text>
<text x="2032.2" y="1251" font-size="28.4" text-anchor="middle" fill="#111" >4</text>
<text x="1490.5" y="1192.4" font-size="28.4" text-anchor="end" fill="#111" >0</text>
<text x="1490.5" y="1039.4" font-size="28.4" text-anchor="end" fill="#111" >0.5</text>
<text x="1490.5" y="892.4" font-size="28.4" text-anchor="end" fill="#111" >1</text>
<text x="2050.5" y="1191.9" font-size="28.4" text-anchor="start" fill="#c3202f" >0</text>
<text x="2050.5" y="1102.9" font-size="28.4" text-anchor="start" fill="#c3202f" >1</text>
<text x="2050.5" y="1013.9" font-size="28.4" text-anchor="start" fill="#c3202f" >2</text>
<text x="2050.5" y="924.9" font-size="28.4" text-anchor="start" fill="#c3202f" >3</text>
<text x="2050.5" y="835.9" font-size="28.4" text-anchor="start" fill="#c3202f" >4</text>
<text x="2050.5" y="746.9" font-size="28.4" text-anchor="start" fill="#c3202f" >5</text>
<text x="1767.5" y="1289" font-size="28.2" text-anchor="middle" fill="#111" ><tspan font-style="italic">D</tspan>/<tspan font-style="italic">t</tspan><tspan dy="8" font-size="14">1</tspan><tspan dy="-8">&#8203;</tspan></text>
<text transform="translate(1423 983) rotate(-90)" font-size="27" text-anchor="middle" fill="#111">S<tspan dy="6" font-size="16">z</tspan></text>
<text transform="translate(2113 969) rotate(-90)" font-size="27" text-anchor="middle" fill="#c3202f">Gap / <tspan font-style="italic">t</tspan><tspan dy="6" font-size="16">1</tspan></text>
<text x="1724" y="718" font-size="27" text-anchor="start" fill="#111" ><tspan font-style="italic">D</tspan><tspan dy="7" font-size="16">c</tspan><tspan dy="-7">&#8203;</tspan></text>
<text x="1804.5" y="718" font-size="27" text-anchor="start" fill="#111" ><tspan font-style="italic">D</tspan><tspan dy="7" font-size="16">FM</tspan><tspan dy="-7">&#8203;</tspan></text>
<text x="1583" y="805" font-size="28" text-anchor="start" fill="#2e4a5c" ><tspan font-style="italic">C</tspan> = -1</text>
<text x="1875" y="805" font-size="28" text-anchor="start" fill="#5a5a5a" ><tspan font-style="italic">C</tspan> = 0</text>
</g>
</svg>
</body></html>
